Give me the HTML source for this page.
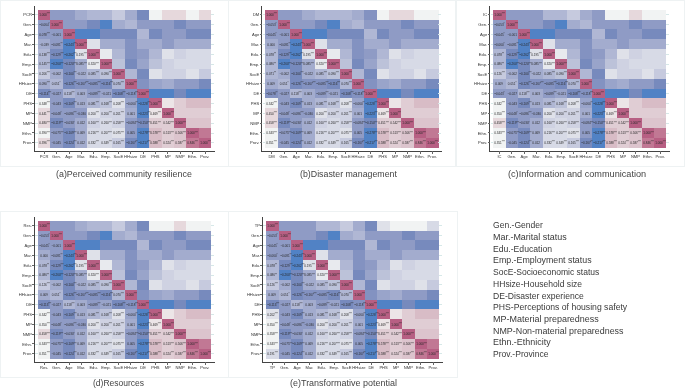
<!DOCTYPE html>
<html><head><meta charset="utf-8"><style>
*{margin:0;padding:0;box-sizing:border-box}
html,body{width:685px;height:389px;overflow:hidden;background:#fff}
body{position:relative;font-family:"Liberation Sans",sans-serif}
div{position:absolute}
.tl{left:0;top:0;width:685px;height:389px;will-change:transform}
.c{width:12.46px;height:9.94px}
.t{width:12.36px;height:9.85px;line-height:9.85px;font-size:3.77px;color:#2a2a2a;text-align:center;white-space:nowrap;transform:scaleX(0.81)}
.t i{font-style:normal;font-size:0.85em;position:relative;top:-0.25em}
.st{width:2.8px;height:0.6px;background:#d6e8e8}
.ax{background:#444}
.tk{background:#666}
.yl{width:30.9px;text-align:right;font-size:4.1px;line-height:6px;color:#333;white-space:nowrap}
.xl{width:20px;text-align:center;font-size:4.1px;line-height:6px;color:#333;white-space:nowrap}
.bx{border:1.4px solid #eef2f3}
.cap{color:#444;white-space:nowrap;transform-origin:0 0}
.lg{color:#3a3a3a;white-space:nowrap;transform-origin:0 0}
</style></head><body>
<div class="c" style="left:38.00px;top:9.70px;background:#b75f83"></div>
<div class="c" style="left:50.36px;top:9.70px;background:#8f9bc5"></div>
<div class="c" style="left:62.72px;top:9.70px;background:#8f9bc5"></div>
<div class="c" style="left:75.08px;top:9.70px;background:#a3acce"></div>
<div class="c" style="left:87.44px;top:9.70px;background:#b0b7d4"></div>
<div class="c" style="left:99.80px;top:9.70px;background:#b0b7d4"></div>
<div class="c" style="left:112.16px;top:9.70px;background:#c6cade"></div>
<div class="c" style="left:124.52px;top:9.70px;background:#a3acce"></div>
<div class="c" style="left:136.88px;top:9.70px;background:#778abd"></div>
<div class="c" style="left:149.24px;top:9.70px;background:#f1f3f3"></div>
<div class="c" style="left:161.60px;top:9.70px;background:#e6d8dc"></div>
<div class="c" style="left:173.96px;top:9.70px;background:#e6d8dc"></div>
<div class="c" style="left:186.32px;top:9.70px;background:#f1f3f3"></div>
<div class="c" style="left:198.68px;top:9.70px;background:#e6d8dc"></div>
<div class="c" style="left:38.00px;top:19.55px;background:#8f9bc5"></div>
<div class="c" style="left:50.36px;top:19.55px;background:#b75f83"></div>
<div class="c" style="left:62.72px;top:19.55px;background:#8f9bc5"></div>
<div class="c" style="left:75.08px;top:19.55px;background:#8f9bc5"></div>
<div class="c" style="left:87.44px;top:19.55px;background:#778abd"></div>
<div class="c" style="left:99.80px;top:19.55px;background:#5182c5"></div>
<div class="c" style="left:112.16px;top:19.55px;background:#a3acce"></div>
<div class="c" style="left:124.52px;top:19.55px;background:#b0b7d4"></div>
<div class="c" style="left:136.88px;top:19.55px;background:#8f9bc5"></div>
<div class="c" style="left:149.24px;top:19.55px;background:#8f9bc5"></div>
<div class="c" style="left:161.60px;top:19.55px;background:#8f9bc5"></div>
<div class="c" style="left:173.96px;top:19.55px;background:#778abd"></div>
<div class="c" style="left:186.32px;top:19.55px;background:#8f9bc5"></div>
<div class="c" style="left:198.68px;top:19.55px;background:#8f9bc5"></div>
<div class="c" style="left:38.00px;top:29.40px;background:#8f9bc5"></div>
<div class="c" style="left:50.36px;top:29.40px;background:#8f9bc5"></div>
<div class="c" style="left:62.72px;top:29.40px;background:#b75f83"></div>
<div class="c" style="left:75.08px;top:29.40px;background:#5182c5"></div>
<div class="c" style="left:87.44px;top:29.40px;background:#5182c5"></div>
<div class="c" style="left:99.80px;top:29.40px;background:#778abd"></div>
<div class="c" style="left:112.16px;top:29.40px;background:#778abd"></div>
<div class="c" style="left:124.52px;top:29.40px;background:#778abd"></div>
<div class="c" style="left:136.88px;top:29.40px;background:#b0b7d4"></div>
<div class="c" style="left:149.24px;top:29.40px;background:#778abd"></div>
<div class="c" style="left:161.60px;top:29.40px;background:#8f9bc5"></div>
<div class="c" style="left:173.96px;top:29.40px;background:#8f9bc5"></div>
<div class="c" style="left:186.32px;top:29.40px;background:#778abd"></div>
<div class="c" style="left:198.68px;top:29.40px;background:#778abd"></div>
<div class="c" style="left:38.00px;top:39.25px;background:#a3acce"></div>
<div class="c" style="left:50.36px;top:39.25px;background:#8f9bc5"></div>
<div class="c" style="left:62.72px;top:39.25px;background:#5182c5"></div>
<div class="c" style="left:75.08px;top:39.25px;background:#b75f83"></div>
<div class="c" style="left:87.44px;top:39.25px;background:#dfe1e9"></div>
<div class="c" style="left:99.80px;top:39.25px;background:#a3acce"></div>
<div class="c" style="left:112.16px;top:39.25px;background:#a3acce"></div>
<div class="c" style="left:124.52px;top:39.25px;background:#8392c1"></div>
<div class="c" style="left:136.88px;top:39.25px;background:#a3acce"></div>
<div class="c" style="left:149.24px;top:39.25px;background:#a3acce"></div>
<div class="c" style="left:161.60px;top:39.25px;background:#8f9bc5"></div>
<div class="c" style="left:173.96px;top:39.25px;background:#a3acce"></div>
<div class="c" style="left:186.32px;top:39.25px;background:#a3acce"></div>
<div class="c" style="left:198.68px;top:39.25px;background:#a3acce"></div>
<div class="c" style="left:38.00px;top:49.10px;background:#b0b7d4"></div>
<div class="c" style="left:50.36px;top:49.10px;background:#778abd"></div>
<div class="c" style="left:62.72px;top:49.10px;background:#5182c5"></div>
<div class="c" style="left:75.08px;top:49.10px;background:#dfe1e9"></div>
<div class="c" style="left:87.44px;top:49.10px;background:#b75f83"></div>
<div class="c" style="left:99.80px;top:49.10px;background:#e8eaee"></div>
<div class="c" style="left:112.16px;top:49.10px;background:#b0b7d4"></div>
<div class="c" style="left:124.52px;top:49.10px;background:#8392c1"></div>
<div class="c" style="left:136.88px;top:49.10px;background:#8f9bc5"></div>
<div class="c" style="left:149.24px;top:49.10px;background:#b0b7d4"></div>
<div class="c" style="left:161.60px;top:49.10px;background:#dfe1e9"></div>
<div class="c" style="left:173.96px;top:49.10px;background:#cfd2e2"></div>
<div class="c" style="left:186.32px;top:49.10px;background:#d7dae6"></div>
<div class="c" style="left:198.68px;top:49.10px;background:#d7dae6"></div>
<div class="c" style="left:38.00px;top:58.95px;background:#b0b7d4"></div>
<div class="c" style="left:50.36px;top:58.95px;background:#5182c5"></div>
<div class="c" style="left:62.72px;top:58.95px;background:#778abd"></div>
<div class="c" style="left:75.08px;top:58.95px;background:#a3acce"></div>
<div class="c" style="left:87.44px;top:58.95px;background:#e8eaee"></div>
<div class="c" style="left:99.80px;top:58.95px;background:#b75f83"></div>
<div class="c" style="left:112.16px;top:58.95px;background:#bcc2d9"></div>
<div class="c" style="left:124.52px;top:58.95px;background:#778abd"></div>
<div class="c" style="left:136.88px;top:58.95px;background:#99a4ca"></div>
<div class="c" style="left:149.24px;top:58.95px;background:#bcc2d9"></div>
<div class="c" style="left:161.60px;top:58.95px;background:#cfd2e2"></div>
<div class="c" style="left:173.96px;top:58.95px;background:#d7dae6"></div>
<div class="c" style="left:186.32px;top:58.95px;background:#d7dae6"></div>
<div class="c" style="left:198.68px;top:58.95px;background:#d7dae6"></div>
<div class="c" style="left:38.00px;top:68.80px;background:#c6cade"></div>
<div class="c" style="left:50.36px;top:68.80px;background:#a3acce"></div>
<div class="c" style="left:62.72px;top:68.80px;background:#778abd"></div>
<div class="c" style="left:75.08px;top:68.80px;background:#a3acce"></div>
<div class="c" style="left:87.44px;top:68.80px;background:#b0b7d4"></div>
<div class="c" style="left:99.80px;top:68.80px;background:#bcc2d9"></div>
<div class="c" style="left:112.16px;top:68.80px;background:#b75f83"></div>
<div class="c" style="left:124.52px;top:68.80px;background:#b0b7d4"></div>
<div class="c" style="left:136.88px;top:68.80px;background:#778abd"></div>
<div class="c" style="left:149.24px;top:68.80px;background:#dfe1e9"></div>
<div class="c" style="left:161.60px;top:68.80px;background:#cfd2e2"></div>
<div class="c" style="left:173.96px;top:68.80px;background:#cfd2e2"></div>
<div class="c" style="left:186.32px;top:68.80px;background:#dfe1e9"></div>
<div class="c" style="left:198.68px;top:68.80px;background:#c6cade"></div>
<div class="c" style="left:38.00px;top:78.65px;background:#a3acce"></div>
<div class="c" style="left:50.36px;top:78.65px;background:#b0b7d4"></div>
<div class="c" style="left:62.72px;top:78.65px;background:#778abd"></div>
<div class="c" style="left:75.08px;top:78.65px;background:#8392c1"></div>
<div class="c" style="left:87.44px;top:78.65px;background:#8392c1"></div>
<div class="c" style="left:99.80px;top:78.65px;background:#778abd"></div>
<div class="c" style="left:112.16px;top:78.65px;background:#b0b7d4"></div>
<div class="c" style="left:124.52px;top:78.65px;background:#b75f83"></div>
<div class="c" style="left:136.88px;top:78.65px;background:#8392c1"></div>
<div class="c" style="left:149.24px;top:78.65px;background:#99a4ca"></div>
<div class="c" style="left:161.60px;top:78.65px;background:#a3acce"></div>
<div class="c" style="left:173.96px;top:78.65px;background:#8f9bc5"></div>
<div class="c" style="left:186.32px;top:78.65px;background:#8f9bc5"></div>
<div class="c" style="left:198.68px;top:78.65px;background:#778abd"></div>
<div class="c" style="left:38.00px;top:88.50px;background:#778abd"></div>
<div class="c" style="left:50.36px;top:88.50px;background:#8f9bc5"></div>
<div class="c" style="left:62.72px;top:88.50px;background:#b0b7d4"></div>
<div class="c" style="left:75.08px;top:88.50px;background:#a3acce"></div>
<div class="c" style="left:87.44px;top:88.50px;background:#8f9bc5"></div>
<div class="c" style="left:99.80px;top:88.50px;background:#99a4ca"></div>
<div class="c" style="left:112.16px;top:88.50px;background:#778abd"></div>
<div class="c" style="left:124.52px;top:88.50px;background:#8392c1"></div>
<div class="c" style="left:136.88px;top:88.50px;background:#b75f83"></div>
<div class="c" style="left:149.24px;top:88.50px;background:#5182c5"></div>
<div class="c" style="left:161.60px;top:88.50px;background:#5182c5"></div>
<div class="c" style="left:173.96px;top:88.50px;background:#778abd"></div>
<div class="c" style="left:186.32px;top:88.50px;background:#5182c5"></div>
<div class="c" style="left:198.68px;top:88.50px;background:#5182c5"></div>
<div class="c" style="left:38.00px;top:98.35px;background:#f1f3f3"></div>
<div class="c" style="left:50.36px;top:98.35px;background:#8f9bc5"></div>
<div class="c" style="left:62.72px;top:98.35px;background:#778abd"></div>
<div class="c" style="left:75.08px;top:98.35px;background:#a3acce"></div>
<div class="c" style="left:87.44px;top:98.35px;background:#b0b7d4"></div>
<div class="c" style="left:99.80px;top:98.35px;background:#bcc2d9"></div>
<div class="c" style="left:112.16px;top:98.35px;background:#dfe1e9"></div>
<div class="c" style="left:124.52px;top:98.35px;background:#99a4ca"></div>
<div class="c" style="left:136.88px;top:98.35px;background:#5182c5"></div>
<div class="c" style="left:149.24px;top:98.35px;background:#b75f83"></div>
<div class="c" style="left:161.60px;top:98.35px;background:#ece5e7"></div>
<div class="c" style="left:173.96px;top:98.35px;background:#e0cdd4"></div>
<div class="c" style="left:186.32px;top:98.35px;background:#d8bcc6"></div>
<div class="c" style="left:198.68px;top:98.35px;background:#d8bcc6"></div>
<div class="c" style="left:38.00px;top:108.20px;background:#e6d8dc"></div>
<div class="c" style="left:50.36px;top:108.20px;background:#8f9bc5"></div>
<div class="c" style="left:62.72px;top:108.20px;background:#8f9bc5"></div>
<div class="c" style="left:75.08px;top:108.20px;background:#8f9bc5"></div>
<div class="c" style="left:87.44px;top:108.20px;background:#dfe1e9"></div>
<div class="c" style="left:99.80px;top:108.20px;background:#cfd2e2"></div>
<div class="c" style="left:112.16px;top:108.20px;background:#cfd2e2"></div>
<div class="c" style="left:124.52px;top:108.20px;background:#a3acce"></div>
<div class="c" style="left:136.88px;top:108.20px;background:#5182c5"></div>
<div class="c" style="left:149.24px;top:108.20px;background:#ece5e7"></div>
<div class="c" style="left:161.60px;top:108.20px;background:#b75f83"></div>
<div class="c" style="left:173.96px;top:108.20px;background:#e0cdd4"></div>
<div class="c" style="left:186.32px;top:108.20px;background:#e0cdd4"></div>
<div class="c" style="left:198.68px;top:108.20px;background:#e0cdd4"></div>
<div class="c" style="left:38.00px;top:118.05px;background:#e6d8dc"></div>
<div class="c" style="left:50.36px;top:118.05px;background:#778abd"></div>
<div class="c" style="left:62.72px;top:118.05px;background:#8f9bc5"></div>
<div class="c" style="left:75.08px;top:118.05px;background:#a3acce"></div>
<div class="c" style="left:87.44px;top:118.05px;background:#cfd2e2"></div>
<div class="c" style="left:99.80px;top:118.05px;background:#d7dae6"></div>
<div class="c" style="left:112.16px;top:118.05px;background:#cfd2e2"></div>
<div class="c" style="left:124.52px;top:118.05px;background:#8f9bc5"></div>
<div class="c" style="left:136.88px;top:118.05px;background:#778abd"></div>
<div class="c" style="left:149.24px;top:118.05px;background:#e0cdd4"></div>
<div class="c" style="left:161.60px;top:118.05px;background:#e0cdd4"></div>
<div class="c" style="left:173.96px;top:118.05px;background:#b75f83"></div>
<div class="c" style="left:186.32px;top:118.05px;background:#dcc4cd"></div>
<div class="c" style="left:198.68px;top:118.05px;background:#dcc4cd"></div>
<div class="c" style="left:38.00px;top:127.90px;background:#f1f3f3"></div>
<div class="c" style="left:50.36px;top:127.90px;background:#8f9bc5"></div>
<div class="c" style="left:62.72px;top:127.90px;background:#778abd"></div>
<div class="c" style="left:75.08px;top:127.90px;background:#a3acce"></div>
<div class="c" style="left:87.44px;top:127.90px;background:#d7dae6"></div>
<div class="c" style="left:99.80px;top:127.90px;background:#d7dae6"></div>
<div class="c" style="left:112.16px;top:127.90px;background:#dfe1e9"></div>
<div class="c" style="left:124.52px;top:127.90px;background:#8f9bc5"></div>
<div class="c" style="left:136.88px;top:127.90px;background:#5182c5"></div>
<div class="c" style="left:149.24px;top:127.90px;background:#d8bcc6"></div>
<div class="c" style="left:161.60px;top:127.90px;background:#e0cdd4"></div>
<div class="c" style="left:173.96px;top:127.90px;background:#dcc4cd"></div>
<div class="c" style="left:186.32px;top:127.90px;background:#b75f83"></div>
<div class="c" style="left:198.68px;top:127.90px;background:#c17894"></div>
<div class="c" style="left:38.00px;top:137.75px;background:#e6d8dc"></div>
<div class="c" style="left:50.36px;top:137.75px;background:#8f9bc5"></div>
<div class="c" style="left:62.72px;top:137.75px;background:#778abd"></div>
<div class="c" style="left:75.08px;top:137.75px;background:#a3acce"></div>
<div class="c" style="left:87.44px;top:137.75px;background:#d7dae6"></div>
<div class="c" style="left:99.80px;top:137.75px;background:#d7dae6"></div>
<div class="c" style="left:112.16px;top:137.75px;background:#c6cade"></div>
<div class="c" style="left:124.52px;top:137.75px;background:#778abd"></div>
<div class="c" style="left:136.88px;top:137.75px;background:#5182c5"></div>
<div class="c" style="left:149.24px;top:137.75px;background:#d8bcc6"></div>
<div class="c" style="left:161.60px;top:137.75px;background:#e0cdd4"></div>
<div class="c" style="left:173.96px;top:137.75px;background:#dcc4cd"></div>
<div class="c" style="left:186.32px;top:137.75px;background:#c17894"></div>
<div class="c" style="left:198.68px;top:137.75px;background:#b75f83"></div>
<div class="tl">
<div class="t" style="left:38.00px;top:11.10px">1.000<i>***</i></div>
<div class="t" style="left:38.00px;top:20.95px">−0.064<i>*</i></div>
<div class="t" style="left:50.36px;top:20.95px">1.000<i>***</i></div>
<div class="t" style="left:38.00px;top:30.80px">0.078<i>***</i></div>
<div class="t" style="left:50.36px;top:30.80px">−0.001</div>
<div class="t" style="left:62.72px;top:30.80px">1.000<i>***</i></div>
<div class="t" style="left:38.00px;top:40.65px">−0.039</div>
<div class="t" style="left:50.36px;top:40.65px">−0.081<i>**</i></div>
<div class="t" style="left:62.72px;top:40.65px">−0.243<i>***</i></div>
<div class="t" style="left:75.08px;top:40.65px">1.000<i>***</i></div>
<div class="t" style="left:38.00px;top:50.50px">0.138<i>***</i></div>
<div class="t" style="left:50.36px;top:50.50px">−0.129<i>***</i></div>
<div class="t" style="left:62.72px;top:50.50px">−0.262<i>***</i></div>
<div class="t" style="left:75.08px;top:50.50px">0.195<i>***</i></div>
<div class="t" style="left:87.44px;top:50.50px">1.000<i>***</i></div>
<div class="t" style="left:38.00px;top:60.35px">0.145<i>***</i></div>
<div class="t" style="left:50.36px;top:60.35px">−0.260<i>***</i></div>
<div class="t" style="left:62.72px;top:60.35px">−0.120<i>***</i></div>
<div class="t" style="left:75.08px;top:60.35px">0.085<i>***</i></div>
<div class="t" style="left:87.44px;top:60.35px">0.320<i>***</i></div>
<div class="t" style="left:99.80px;top:60.35px">1.000<i>***</i></div>
<div class="t" style="left:38.00px;top:70.20px">0.206<i>***</i></div>
<div class="t" style="left:50.36px;top:70.20px">−0.002</div>
<div class="t" style="left:62.72px;top:70.20px">−0.100<i>***</i></div>
<div class="t" style="left:75.08px;top:70.20px">−0.022</div>
<div class="t" style="left:87.44px;top:70.20px">0.085<i>***</i></div>
<div class="t" style="left:99.80px;top:70.20px">0.090<i>***</i></div>
<div class="t" style="left:112.16px;top:70.20px">1.000<i>***</i></div>
<div class="t" style="left:38.00px;top:80.05px">0.090<i>***</i></div>
<div class="t" style="left:50.36px;top:80.05px">0.051<i>*</i></div>
<div class="t" style="left:62.72px;top:80.05px">−0.126<i>***</i></div>
<div class="t" style="left:75.08px;top:80.05px">−0.167<i>***</i></div>
<div class="t" style="left:87.44px;top:80.05px">−0.085<i>***</i></div>
<div class="t" style="left:99.80px;top:80.05px">−0.116<i>***</i></div>
<div class="t" style="left:112.16px;top:80.05px">0.070<i>***</i></div>
<div class="t" style="left:124.52px;top:80.05px">1.000<i>***</i></div>
<div class="t" style="left:38.00px;top:89.90px">−0.114<i>***</i></div>
<div class="t" style="left:50.36px;top:89.90px">−0.027</div>
<div class="t" style="left:62.72px;top:89.90px">0.118<i>***</i></div>
<div class="t" style="left:75.08px;top:89.90px">0.003</div>
<div class="t" style="left:87.44px;top:89.90px">−0.089<i>***</i></div>
<div class="t" style="left:99.80px;top:89.90px">−0.021</div>
<div class="t" style="left:112.16px;top:89.90px">−0.108<i>***</i></div>
<div class="t" style="left:124.52px;top:89.90px">−0.118<i>***</i></div>
<div class="t" style="left:136.88px;top:89.90px">1.000<i>***</i></div>
<div class="t" style="left:38.00px;top:99.75px">0.348<i>***</i></div>
<div class="t" style="left:50.36px;top:99.75px">−0.043</div>
<div class="t" style="left:62.72px;top:99.75px">−0.109<i>***</i></div>
<div class="t" style="left:75.08px;top:99.75px">0.013</div>
<div class="t" style="left:87.44px;top:99.75px">0.081<i>***</i></div>
<div class="t" style="left:99.80px;top:99.75px">0.168<i>***</i></div>
<div class="t" style="left:112.16px;top:99.75px">0.208<i>***</i></div>
<div class="t" style="left:124.52px;top:99.75px">−0.060<i>**</i></div>
<div class="t" style="left:136.88px;top:99.75px">−0.228<i>***</i></div>
<div class="t" style="left:149.24px;top:99.75px">1.000<i>***</i></div>
<div class="t" style="left:38.00px;top:109.60px">0.441<i>***</i></div>
<div class="t" style="left:50.36px;top:109.60px">−0.048<i>*</i></div>
<div class="t" style="left:62.72px;top:109.60px">−0.086<i>***</i></div>
<div class="t" style="left:75.08px;top:109.60px">−0.030</div>
<div class="t" style="left:87.44px;top:109.60px">0.200<i>***</i></div>
<div class="t" style="left:99.80px;top:109.60px">0.200<i>***</i></div>
<div class="t" style="left:112.16px;top:109.60px">0.201<i>***</i></div>
<div class="t" style="left:124.52px;top:109.60px">0.001</div>
<div class="t" style="left:136.88px;top:109.60px">−0.223<i>***</i></div>
<div class="t" style="left:149.24px;top:109.60px">0.469<i>***</i></div>
<div class="t" style="left:161.60px;top:109.60px">1.000<i>***</i></div>
<div class="t" style="left:38.00px;top:119.45px">0.480<i>***</i></div>
<div class="t" style="left:50.36px;top:119.45px">−0.119<i>***</i></div>
<div class="t" style="left:62.72px;top:119.45px">−0.030<i>*</i></div>
<div class="t" style="left:75.08px;top:119.45px">0.012</div>
<div class="t" style="left:87.44px;top:119.45px">0.160<i>***</i></div>
<div class="t" style="left:99.80px;top:119.45px">0.260<i>***</i></div>
<div class="t" style="left:112.16px;top:119.45px">0.258<i>***</i></div>
<div class="t" style="left:124.52px;top:119.45px">−0.084<i>***</i></div>
<div class="t" style="left:136.88px;top:119.45px">−0.150<i>***</i></div>
<div class="t" style="left:149.24px;top:119.45px">0.451<i>***</i></div>
<div class="t" style="left:161.60px;top:119.45px">0.542<i>***</i></div>
<div class="t" style="left:173.96px;top:119.45px">1.000<i>***</i></div>
<div class="t" style="left:38.00px;top:129.30px">0.390<i>***</i></div>
<div class="t" style="left:50.36px;top:129.30px">−0.075<i>***</i></div>
<div class="t" style="left:62.72px;top:129.30px">−0.109<i>***</i></div>
<div class="t" style="left:75.08px;top:129.30px">0.069</div>
<div class="t" style="left:87.44px;top:129.30px">0.216<i>***</i></div>
<div class="t" style="left:99.80px;top:129.30px">0.207<i>***</i></div>
<div class="t" style="left:112.16px;top:129.30px">0.075<i>***</i></div>
<div class="t" style="left:124.52px;top:129.30px">0.005</div>
<div class="t" style="left:136.88px;top:129.30px">−0.278<i>***</i></div>
<div class="t" style="left:149.24px;top:129.30px">0.578<i>***</i></div>
<div class="t" style="left:161.60px;top:129.30px">0.513<i>***</i></div>
<div class="t" style="left:173.96px;top:129.30px">0.506<i>***</i></div>
<div class="t" style="left:186.32px;top:129.30px">1.000<i>***</i></div>
<div class="t" style="left:38.00px;top:139.15px">0.396<i>***</i></div>
<div class="t" style="left:50.36px;top:139.15px">−0.045</div>
<div class="t" style="left:62.72px;top:139.15px">−0.124<i>***</i></div>
<div class="t" style="left:75.08px;top:139.15px">0.012</div>
<div class="t" style="left:87.44px;top:139.15px">0.332<i>***</i></div>
<div class="t" style="left:99.80px;top:139.15px">0.349<i>***</i></div>
<div class="t" style="left:112.16px;top:139.15px">0.165<i>***</i></div>
<div class="t" style="left:124.52px;top:139.15px">−0.167<i>**</i></div>
<div class="t" style="left:136.88px;top:139.15px">−0.217<i>***</i></div>
<div class="t" style="left:149.24px;top:139.15px">0.588<i>***</i></div>
<div class="t" style="left:161.60px;top:139.15px">0.524<i>***</i></div>
<div class="t" style="left:173.96px;top:139.15px">0.587<i>***</i></div>
<div class="t" style="left:186.32px;top:139.15px">0.846<i>***</i></div>
<div class="t" style="left:198.68px;top:139.15px">1.000<i>***</i></div>
</div>
<div class="st" style="left:35.20px;top:14.32px"></div>
<div class="st" style="left:211.04px;top:14.32px"></div>
<div class="st" style="left:35.20px;top:24.17px"></div>
<div class="st" style="left:211.04px;top:24.17px"></div>
<div class="st" style="left:35.20px;top:34.02px"></div>
<div class="st" style="left:211.04px;top:34.02px"></div>
<div class="st" style="left:35.20px;top:43.88px"></div>
<div class="st" style="left:211.04px;top:43.88px"></div>
<div class="st" style="left:35.20px;top:53.72px"></div>
<div class="st" style="left:211.04px;top:53.72px"></div>
<div class="st" style="left:35.20px;top:63.58px"></div>
<div class="st" style="left:211.04px;top:63.58px"></div>
<div class="st" style="left:35.20px;top:73.42px"></div>
<div class="st" style="left:211.04px;top:73.42px"></div>
<div class="st" style="left:35.20px;top:83.28px"></div>
<div class="st" style="left:211.04px;top:83.28px"></div>
<div class="st" style="left:35.20px;top:93.12px"></div>
<div class="st" style="left:211.04px;top:93.12px"></div>
<div class="st" style="left:35.20px;top:102.97px"></div>
<div class="st" style="left:211.04px;top:102.97px"></div>
<div class="st" style="left:35.20px;top:112.83px"></div>
<div class="st" style="left:211.04px;top:112.83px"></div>
<div class="st" style="left:35.20px;top:122.67px"></div>
<div class="st" style="left:211.04px;top:122.67px"></div>
<div class="st" style="left:35.20px;top:132.52px"></div>
<div class="st" style="left:211.04px;top:132.52px"></div>
<div class="st" style="left:35.20px;top:142.37px"></div>
<div class="st" style="left:211.04px;top:142.37px"></div>
<div class="ax" style="left:33.85px;top:5.80px;width:0.9px;height:145.80px"></div>
<div class="ax" style="left:33.85px;top:150.75px;width:181.00px;height:0.9px"></div>
<div class="tk" style="left:32.20px;top:14.28px;width:2.1px;height:0.7px"></div>
<div class="yl" style="left:1.00px;top:12.43px">PCR</div>
<div class="tk" style="left:32.20px;top:24.12px;width:2.1px;height:0.7px"></div>
<div class="yl" style="left:1.00px;top:22.27px">Gen.</div>
<div class="tk" style="left:32.20px;top:33.97px;width:2.1px;height:0.7px"></div>
<div class="yl" style="left:1.00px;top:32.12px">Age</div>
<div class="tk" style="left:32.20px;top:43.82px;width:2.1px;height:0.7px"></div>
<div class="yl" style="left:1.00px;top:41.97px">Mar.</div>
<div class="tk" style="left:32.20px;top:53.67px;width:2.1px;height:0.7px"></div>
<div class="yl" style="left:1.00px;top:51.82px">Edu.</div>
<div class="tk" style="left:32.20px;top:63.52px;width:2.1px;height:0.7px"></div>
<div class="yl" style="left:1.00px;top:61.67px">Emp.</div>
<div class="tk" style="left:32.20px;top:73.38px;width:2.1px;height:0.7px"></div>
<div class="yl" style="left:1.00px;top:71.52px">SocE</div>
<div class="tk" style="left:32.20px;top:83.23px;width:2.1px;height:0.7px"></div>
<div class="yl" style="left:1.00px;top:81.38px">HHsize</div>
<div class="tk" style="left:32.20px;top:93.08px;width:2.1px;height:0.7px"></div>
<div class="yl" style="left:1.00px;top:91.22px">DE</div>
<div class="tk" style="left:32.20px;top:102.92px;width:2.1px;height:0.7px"></div>
<div class="yl" style="left:1.00px;top:101.07px">PHS</div>
<div class="tk" style="left:32.20px;top:112.78px;width:2.1px;height:0.7px"></div>
<div class="yl" style="left:1.00px;top:110.92px">MP</div>
<div class="tk" style="left:32.20px;top:122.62px;width:2.1px;height:0.7px"></div>
<div class="yl" style="left:1.00px;top:120.77px">NMP</div>
<div class="tk" style="left:32.20px;top:132.47px;width:2.1px;height:0.7px"></div>
<div class="yl" style="left:1.00px;top:130.62px">Ethn.</div>
<div class="tk" style="left:32.20px;top:142.32px;width:2.1px;height:0.7px"></div>
<div class="yl" style="left:1.00px;top:140.47px">Prov.</div>
<div class="tk" style="left:43.83px;top:151.40px;width:0.7px;height:2.3px"></div>
<div class="xl" style="left:34.18px;top:153.60px">PCR</div>
<div class="tk" style="left:56.19px;top:151.40px;width:0.7px;height:2.3px"></div>
<div class="xl" style="left:46.54px;top:153.60px">Gen.</div>
<div class="tk" style="left:68.55px;top:151.40px;width:0.7px;height:2.3px"></div>
<div class="xl" style="left:58.90px;top:153.60px">Age</div>
<div class="tk" style="left:80.91px;top:151.40px;width:0.7px;height:2.3px"></div>
<div class="xl" style="left:71.26px;top:153.60px">Mar.</div>
<div class="tk" style="left:93.27px;top:151.40px;width:0.7px;height:2.3px"></div>
<div class="xl" style="left:83.62px;top:153.60px">Edu.</div>
<div class="tk" style="left:105.63px;top:151.40px;width:0.7px;height:2.3px"></div>
<div class="xl" style="left:95.98px;top:153.60px">Emp.</div>
<div class="tk" style="left:117.99px;top:151.40px;width:0.7px;height:2.3px"></div>
<div class="xl" style="left:108.34px;top:153.60px">SocE</div>
<div class="tk" style="left:130.35px;top:151.40px;width:0.7px;height:2.3px"></div>
<div class="xl" style="left:120.70px;top:153.60px">HHsize</div>
<div class="tk" style="left:142.71px;top:151.40px;width:0.7px;height:2.3px"></div>
<div class="xl" style="left:133.06px;top:153.60px">DE</div>
<div class="tk" style="left:155.07px;top:151.40px;width:0.7px;height:2.3px"></div>
<div class="xl" style="left:145.42px;top:153.60px">PHS</div>
<div class="tk" style="left:167.43px;top:151.40px;width:0.7px;height:2.3px"></div>
<div class="xl" style="left:157.78px;top:153.60px">MP</div>
<div class="tk" style="left:179.79px;top:151.40px;width:0.7px;height:2.3px"></div>
<div class="xl" style="left:170.14px;top:153.60px">NMP</div>
<div class="tk" style="left:192.15px;top:151.40px;width:0.7px;height:2.3px"></div>
<div class="xl" style="left:182.50px;top:153.60px">Ethn.</div>
<div class="tk" style="left:204.51px;top:151.40px;width:0.7px;height:2.3px"></div>
<div class="xl" style="left:194.86px;top:153.60px">Prov.</div>
<div class="bx" style="left:0.00px;top:0.00px;width:228.50px;height:167.00px"></div>
<div class="cap" style="left:56.37px;top:168.79px;font-size:8.80px;line-height:10.12px;transform:scaleX(1.0103)">(a)Perceived community resilience</div>
<div class="c" style="left:265.40px;top:9.70px;background:#b75f83"></div>
<div class="c" style="left:277.76px;top:9.70px;background:#8f9bc5"></div>
<div class="c" style="left:290.12px;top:9.70px;background:#8f9bc5"></div>
<div class="c" style="left:302.48px;top:9.70px;background:#a3acce"></div>
<div class="c" style="left:314.84px;top:9.70px;background:#b0b7d4"></div>
<div class="c" style="left:327.20px;top:9.70px;background:#b0b7d4"></div>
<div class="c" style="left:339.56px;top:9.70px;background:#b0b7d4"></div>
<div class="c" style="left:351.92px;top:9.70px;background:#a3acce"></div>
<div class="c" style="left:364.28px;top:9.70px;background:#8392c1"></div>
<div class="c" style="left:376.64px;top:9.70px;background:#f1f3f3"></div>
<div class="c" style="left:389.00px;top:9.70px;background:#e6d8dc"></div>
<div class="c" style="left:401.36px;top:9.70px;background:#e6d8dc"></div>
<div class="c" style="left:413.72px;top:9.70px;background:#f1f3f3"></div>
<div class="c" style="left:426.08px;top:9.70px;background:#f1f3f3"></div>
<div class="c" style="left:265.40px;top:19.55px;background:#8f9bc5"></div>
<div class="c" style="left:277.76px;top:19.55px;background:#b75f83"></div>
<div class="c" style="left:290.12px;top:19.55px;background:#8f9bc5"></div>
<div class="c" style="left:302.48px;top:19.55px;background:#8f9bc5"></div>
<div class="c" style="left:314.84px;top:19.55px;background:#778abd"></div>
<div class="c" style="left:327.20px;top:19.55px;background:#5182c5"></div>
<div class="c" style="left:339.56px;top:19.55px;background:#a3acce"></div>
<div class="c" style="left:351.92px;top:19.55px;background:#b0b7d4"></div>
<div class="c" style="left:364.28px;top:19.55px;background:#8f9bc5"></div>
<div class="c" style="left:376.64px;top:19.55px;background:#8f9bc5"></div>
<div class="c" style="left:389.00px;top:19.55px;background:#8f9bc5"></div>
<div class="c" style="left:401.36px;top:19.55px;background:#778abd"></div>
<div class="c" style="left:413.72px;top:19.55px;background:#8f9bc5"></div>
<div class="c" style="left:426.08px;top:19.55px;background:#8f9bc5"></div>
<div class="c" style="left:265.40px;top:29.40px;background:#8f9bc5"></div>
<div class="c" style="left:277.76px;top:29.40px;background:#8f9bc5"></div>
<div class="c" style="left:290.12px;top:29.40px;background:#b75f83"></div>
<div class="c" style="left:302.48px;top:29.40px;background:#5182c5"></div>
<div class="c" style="left:314.84px;top:29.40px;background:#5182c5"></div>
<div class="c" style="left:327.20px;top:29.40px;background:#778abd"></div>
<div class="c" style="left:339.56px;top:29.40px;background:#778abd"></div>
<div class="c" style="left:351.92px;top:29.40px;background:#778abd"></div>
<div class="c" style="left:364.28px;top:29.40px;background:#b0b7d4"></div>
<div class="c" style="left:376.64px;top:29.40px;background:#778abd"></div>
<div class="c" style="left:389.00px;top:29.40px;background:#8f9bc5"></div>
<div class="c" style="left:401.36px;top:29.40px;background:#8f9bc5"></div>
<div class="c" style="left:413.72px;top:29.40px;background:#778abd"></div>
<div class="c" style="left:426.08px;top:29.40px;background:#778abd"></div>
<div class="c" style="left:265.40px;top:39.25px;background:#a3acce"></div>
<div class="c" style="left:277.76px;top:39.25px;background:#8f9bc5"></div>
<div class="c" style="left:290.12px;top:39.25px;background:#5182c5"></div>
<div class="c" style="left:302.48px;top:39.25px;background:#b75f83"></div>
<div class="c" style="left:314.84px;top:39.25px;background:#dfe1e9"></div>
<div class="c" style="left:327.20px;top:39.25px;background:#a3acce"></div>
<div class="c" style="left:339.56px;top:39.25px;background:#a3acce"></div>
<div class="c" style="left:351.92px;top:39.25px;background:#8392c1"></div>
<div class="c" style="left:364.28px;top:39.25px;background:#a3acce"></div>
<div class="c" style="left:376.64px;top:39.25px;background:#a3acce"></div>
<div class="c" style="left:389.00px;top:39.25px;background:#8f9bc5"></div>
<div class="c" style="left:401.36px;top:39.25px;background:#a3acce"></div>
<div class="c" style="left:413.72px;top:39.25px;background:#a3acce"></div>
<div class="c" style="left:426.08px;top:39.25px;background:#a3acce"></div>
<div class="c" style="left:265.40px;top:49.10px;background:#b0b7d4"></div>
<div class="c" style="left:277.76px;top:49.10px;background:#778abd"></div>
<div class="c" style="left:290.12px;top:49.10px;background:#5182c5"></div>
<div class="c" style="left:302.48px;top:49.10px;background:#dfe1e9"></div>
<div class="c" style="left:314.84px;top:49.10px;background:#b75f83"></div>
<div class="c" style="left:327.20px;top:49.10px;background:#e8eaee"></div>
<div class="c" style="left:339.56px;top:49.10px;background:#b0b7d4"></div>
<div class="c" style="left:351.92px;top:49.10px;background:#8392c1"></div>
<div class="c" style="left:364.28px;top:49.10px;background:#8f9bc5"></div>
<div class="c" style="left:376.64px;top:49.10px;background:#b0b7d4"></div>
<div class="c" style="left:389.00px;top:49.10px;background:#dfe1e9"></div>
<div class="c" style="left:401.36px;top:49.10px;background:#cfd2e2"></div>
<div class="c" style="left:413.72px;top:49.10px;background:#d7dae6"></div>
<div class="c" style="left:426.08px;top:49.10px;background:#d7dae6"></div>
<div class="c" style="left:265.40px;top:58.95px;background:#b0b7d4"></div>
<div class="c" style="left:277.76px;top:58.95px;background:#5182c5"></div>
<div class="c" style="left:290.12px;top:58.95px;background:#778abd"></div>
<div class="c" style="left:302.48px;top:58.95px;background:#a3acce"></div>
<div class="c" style="left:314.84px;top:58.95px;background:#e8eaee"></div>
<div class="c" style="left:327.20px;top:58.95px;background:#b75f83"></div>
<div class="c" style="left:339.56px;top:58.95px;background:#bcc2d9"></div>
<div class="c" style="left:351.92px;top:58.95px;background:#778abd"></div>
<div class="c" style="left:364.28px;top:58.95px;background:#99a4ca"></div>
<div class="c" style="left:376.64px;top:58.95px;background:#bcc2d9"></div>
<div class="c" style="left:389.00px;top:58.95px;background:#cfd2e2"></div>
<div class="c" style="left:401.36px;top:58.95px;background:#d7dae6"></div>
<div class="c" style="left:413.72px;top:58.95px;background:#d7dae6"></div>
<div class="c" style="left:426.08px;top:58.95px;background:#d7dae6"></div>
<div class="c" style="left:265.40px;top:68.80px;background:#b0b7d4"></div>
<div class="c" style="left:277.76px;top:68.80px;background:#a3acce"></div>
<div class="c" style="left:290.12px;top:68.80px;background:#778abd"></div>
<div class="c" style="left:302.48px;top:68.80px;background:#a3acce"></div>
<div class="c" style="left:314.84px;top:68.80px;background:#b0b7d4"></div>
<div class="c" style="left:327.20px;top:68.80px;background:#bcc2d9"></div>
<div class="c" style="left:339.56px;top:68.80px;background:#b75f83"></div>
<div class="c" style="left:351.92px;top:68.80px;background:#b0b7d4"></div>
<div class="c" style="left:364.28px;top:68.80px;background:#778abd"></div>
<div class="c" style="left:376.64px;top:68.80px;background:#dfe1e9"></div>
<div class="c" style="left:389.00px;top:68.80px;background:#cfd2e2"></div>
<div class="c" style="left:401.36px;top:68.80px;background:#cfd2e2"></div>
<div class="c" style="left:413.72px;top:68.80px;background:#dfe1e9"></div>
<div class="c" style="left:426.08px;top:68.80px;background:#c6cade"></div>
<div class="c" style="left:265.40px;top:78.65px;background:#a3acce"></div>
<div class="c" style="left:277.76px;top:78.65px;background:#b0b7d4"></div>
<div class="c" style="left:290.12px;top:78.65px;background:#778abd"></div>
<div class="c" style="left:302.48px;top:78.65px;background:#8392c1"></div>
<div class="c" style="left:314.84px;top:78.65px;background:#8392c1"></div>
<div class="c" style="left:327.20px;top:78.65px;background:#778abd"></div>
<div class="c" style="left:339.56px;top:78.65px;background:#b0b7d4"></div>
<div class="c" style="left:351.92px;top:78.65px;background:#b75f83"></div>
<div class="c" style="left:364.28px;top:78.65px;background:#8392c1"></div>
<div class="c" style="left:376.64px;top:78.65px;background:#99a4ca"></div>
<div class="c" style="left:389.00px;top:78.65px;background:#a3acce"></div>
<div class="c" style="left:401.36px;top:78.65px;background:#8f9bc5"></div>
<div class="c" style="left:413.72px;top:78.65px;background:#8f9bc5"></div>
<div class="c" style="left:426.08px;top:78.65px;background:#778abd"></div>
<div class="c" style="left:265.40px;top:88.50px;background:#8392c1"></div>
<div class="c" style="left:277.76px;top:88.50px;background:#8f9bc5"></div>
<div class="c" style="left:290.12px;top:88.50px;background:#b0b7d4"></div>
<div class="c" style="left:302.48px;top:88.50px;background:#a3acce"></div>
<div class="c" style="left:314.84px;top:88.50px;background:#8f9bc5"></div>
<div class="c" style="left:327.20px;top:88.50px;background:#99a4ca"></div>
<div class="c" style="left:339.56px;top:88.50px;background:#778abd"></div>
<div class="c" style="left:351.92px;top:88.50px;background:#8392c1"></div>
<div class="c" style="left:364.28px;top:88.50px;background:#b75f83"></div>
<div class="c" style="left:376.64px;top:88.50px;background:#5182c5"></div>
<div class="c" style="left:389.00px;top:88.50px;background:#5182c5"></div>
<div class="c" style="left:401.36px;top:88.50px;background:#778abd"></div>
<div class="c" style="left:413.72px;top:88.50px;background:#5182c5"></div>
<div class="c" style="left:426.08px;top:88.50px;background:#5182c5"></div>
<div class="c" style="left:265.40px;top:98.35px;background:#f1f3f3"></div>
<div class="c" style="left:277.76px;top:98.35px;background:#8f9bc5"></div>
<div class="c" style="left:290.12px;top:98.35px;background:#778abd"></div>
<div class="c" style="left:302.48px;top:98.35px;background:#a3acce"></div>
<div class="c" style="left:314.84px;top:98.35px;background:#b0b7d4"></div>
<div class="c" style="left:327.20px;top:98.35px;background:#bcc2d9"></div>
<div class="c" style="left:339.56px;top:98.35px;background:#dfe1e9"></div>
<div class="c" style="left:351.92px;top:98.35px;background:#99a4ca"></div>
<div class="c" style="left:364.28px;top:98.35px;background:#5182c5"></div>
<div class="c" style="left:376.64px;top:98.35px;background:#b75f83"></div>
<div class="c" style="left:389.00px;top:98.35px;background:#ece5e7"></div>
<div class="c" style="left:401.36px;top:98.35px;background:#e0cdd4"></div>
<div class="c" style="left:413.72px;top:98.35px;background:#d8bcc6"></div>
<div class="c" style="left:426.08px;top:98.35px;background:#d8bcc6"></div>
<div class="c" style="left:265.40px;top:108.20px;background:#e6d8dc"></div>
<div class="c" style="left:277.76px;top:108.20px;background:#8f9bc5"></div>
<div class="c" style="left:290.12px;top:108.20px;background:#8f9bc5"></div>
<div class="c" style="left:302.48px;top:108.20px;background:#8f9bc5"></div>
<div class="c" style="left:314.84px;top:108.20px;background:#dfe1e9"></div>
<div class="c" style="left:327.20px;top:108.20px;background:#cfd2e2"></div>
<div class="c" style="left:339.56px;top:108.20px;background:#cfd2e2"></div>
<div class="c" style="left:351.92px;top:108.20px;background:#a3acce"></div>
<div class="c" style="left:364.28px;top:108.20px;background:#5182c5"></div>
<div class="c" style="left:376.64px;top:108.20px;background:#ece5e7"></div>
<div class="c" style="left:389.00px;top:108.20px;background:#b75f83"></div>
<div class="c" style="left:401.36px;top:108.20px;background:#e0cdd4"></div>
<div class="c" style="left:413.72px;top:108.20px;background:#e0cdd4"></div>
<div class="c" style="left:426.08px;top:108.20px;background:#e0cdd4"></div>
<div class="c" style="left:265.40px;top:118.05px;background:#e6d8dc"></div>
<div class="c" style="left:277.76px;top:118.05px;background:#778abd"></div>
<div class="c" style="left:290.12px;top:118.05px;background:#8f9bc5"></div>
<div class="c" style="left:302.48px;top:118.05px;background:#a3acce"></div>
<div class="c" style="left:314.84px;top:118.05px;background:#cfd2e2"></div>
<div class="c" style="left:327.20px;top:118.05px;background:#d7dae6"></div>
<div class="c" style="left:339.56px;top:118.05px;background:#cfd2e2"></div>
<div class="c" style="left:351.92px;top:118.05px;background:#8f9bc5"></div>
<div class="c" style="left:364.28px;top:118.05px;background:#778abd"></div>
<div class="c" style="left:376.64px;top:118.05px;background:#e0cdd4"></div>
<div class="c" style="left:389.00px;top:118.05px;background:#e0cdd4"></div>
<div class="c" style="left:401.36px;top:118.05px;background:#b75f83"></div>
<div class="c" style="left:413.72px;top:118.05px;background:#dcc4cd"></div>
<div class="c" style="left:426.08px;top:118.05px;background:#dcc4cd"></div>
<div class="c" style="left:265.40px;top:127.90px;background:#f1f3f3"></div>
<div class="c" style="left:277.76px;top:127.90px;background:#8f9bc5"></div>
<div class="c" style="left:290.12px;top:127.90px;background:#778abd"></div>
<div class="c" style="left:302.48px;top:127.90px;background:#a3acce"></div>
<div class="c" style="left:314.84px;top:127.90px;background:#d7dae6"></div>
<div class="c" style="left:327.20px;top:127.90px;background:#d7dae6"></div>
<div class="c" style="left:339.56px;top:127.90px;background:#dfe1e9"></div>
<div class="c" style="left:351.92px;top:127.90px;background:#8f9bc5"></div>
<div class="c" style="left:364.28px;top:127.90px;background:#5182c5"></div>
<div class="c" style="left:376.64px;top:127.90px;background:#d8bcc6"></div>
<div class="c" style="left:389.00px;top:127.90px;background:#e0cdd4"></div>
<div class="c" style="left:401.36px;top:127.90px;background:#dcc4cd"></div>
<div class="c" style="left:413.72px;top:127.90px;background:#b75f83"></div>
<div class="c" style="left:426.08px;top:127.90px;background:#c17894"></div>
<div class="c" style="left:265.40px;top:137.75px;background:#f1f3f3"></div>
<div class="c" style="left:277.76px;top:137.75px;background:#8f9bc5"></div>
<div class="c" style="left:290.12px;top:137.75px;background:#778abd"></div>
<div class="c" style="left:302.48px;top:137.75px;background:#a3acce"></div>
<div class="c" style="left:314.84px;top:137.75px;background:#d7dae6"></div>
<div class="c" style="left:327.20px;top:137.75px;background:#d7dae6"></div>
<div class="c" style="left:339.56px;top:137.75px;background:#c6cade"></div>
<div class="c" style="left:351.92px;top:137.75px;background:#778abd"></div>
<div class="c" style="left:364.28px;top:137.75px;background:#5182c5"></div>
<div class="c" style="left:376.64px;top:137.75px;background:#d8bcc6"></div>
<div class="c" style="left:389.00px;top:137.75px;background:#e0cdd4"></div>
<div class="c" style="left:401.36px;top:137.75px;background:#dcc4cd"></div>
<div class="c" style="left:413.72px;top:137.75px;background:#c17894"></div>
<div class="c" style="left:426.08px;top:137.75px;background:#b75f83"></div>
<div class="tl">
<div class="t" style="left:265.40px;top:11.10px">1.000<i>***</i></div>
<div class="t" style="left:265.40px;top:20.95px">−0.053<i>*</i></div>
<div class="t" style="left:277.76px;top:20.95px">1.000<i>***</i></div>
<div class="t" style="left:265.40px;top:30.80px">−0.045<i>*</i></div>
<div class="t" style="left:277.76px;top:30.80px">−0.001</div>
<div class="t" style="left:290.12px;top:30.80px">1.000<i>***</i></div>
<div class="t" style="left:265.40px;top:40.65px">0.000</div>
<div class="t" style="left:277.76px;top:40.65px">−0.081<i>**</i></div>
<div class="t" style="left:290.12px;top:40.65px">−0.243<i>***</i></div>
<div class="t" style="left:302.48px;top:40.65px">1.000<i>***</i></div>
<div class="t" style="left:265.40px;top:50.50px">0.078<i>**</i></div>
<div class="t" style="left:277.76px;top:50.50px">−0.129<i>***</i></div>
<div class="t" style="left:290.12px;top:50.50px">−0.262<i>***</i></div>
<div class="t" style="left:302.48px;top:50.50px">0.195<i>***</i></div>
<div class="t" style="left:314.84px;top:50.50px">1.000<i>***</i></div>
<div class="t" style="left:265.40px;top:60.35px">0.086<i>**</i></div>
<div class="t" style="left:277.76px;top:60.35px">−0.260<i>***</i></div>
<div class="t" style="left:290.12px;top:60.35px">−0.120<i>***</i></div>
<div class="t" style="left:302.48px;top:60.35px">0.085<i>***</i></div>
<div class="t" style="left:314.84px;top:60.35px">0.320<i>***</i></div>
<div class="t" style="left:327.20px;top:60.35px">1.000<i>***</i></div>
<div class="t" style="left:265.40px;top:70.20px">0.071<i>**</i></div>
<div class="t" style="left:277.76px;top:70.20px">−0.002</div>
<div class="t" style="left:290.12px;top:70.20px">−0.100<i>***</i></div>
<div class="t" style="left:302.48px;top:70.20px">−0.022</div>
<div class="t" style="left:314.84px;top:70.20px">0.085<i>***</i></div>
<div class="t" style="left:327.20px;top:70.20px">0.090<i>***</i></div>
<div class="t" style="left:339.56px;top:70.20px">1.000<i>***</i></div>
<div class="t" style="left:265.40px;top:80.05px">0.009</div>
<div class="t" style="left:277.76px;top:80.05px">0.051<i>*</i></div>
<div class="t" style="left:290.12px;top:80.05px">−0.126<i>***</i></div>
<div class="t" style="left:302.48px;top:80.05px">−0.167<i>***</i></div>
<div class="t" style="left:314.84px;top:80.05px">−0.085<i>***</i></div>
<div class="t" style="left:327.20px;top:80.05px">−0.116<i>***</i></div>
<div class="t" style="left:339.56px;top:80.05px">0.070<i>***</i></div>
<div class="t" style="left:351.92px;top:80.05px">1.000<i>***</i></div>
<div class="t" style="left:265.40px;top:89.90px">−0.078<i>**</i></div>
<div class="t" style="left:277.76px;top:89.90px">−0.027</div>
<div class="t" style="left:290.12px;top:89.90px">0.118<i>***</i></div>
<div class="t" style="left:302.48px;top:89.90px">0.003</div>
<div class="t" style="left:314.84px;top:89.90px">−0.089<i>***</i></div>
<div class="t" style="left:327.20px;top:89.90px">−0.021</div>
<div class="t" style="left:339.56px;top:89.90px">−0.108<i>***</i></div>
<div class="t" style="left:351.92px;top:89.90px">−0.118<i>***</i></div>
<div class="t" style="left:364.28px;top:89.90px">1.000<i>***</i></div>
<div class="t" style="left:265.40px;top:99.75px">0.342<i>***</i></div>
<div class="t" style="left:277.76px;top:99.75px">−0.043</div>
<div class="t" style="left:290.12px;top:99.75px">−0.109<i>***</i></div>
<div class="t" style="left:302.48px;top:99.75px">0.013</div>
<div class="t" style="left:314.84px;top:99.75px">0.081<i>***</i></div>
<div class="t" style="left:327.20px;top:99.75px">0.168<i>***</i></div>
<div class="t" style="left:339.56px;top:99.75px">0.208<i>***</i></div>
<div class="t" style="left:351.92px;top:99.75px">−0.060<i>**</i></div>
<div class="t" style="left:364.28px;top:99.75px">−0.228<i>***</i></div>
<div class="t" style="left:376.64px;top:99.75px">1.000<i>***</i></div>
<div class="t" style="left:265.40px;top:109.60px">0.450<i>***</i></div>
<div class="t" style="left:277.76px;top:109.60px">−0.048<i>*</i></div>
<div class="t" style="left:290.12px;top:109.60px">−0.086<i>***</i></div>
<div class="t" style="left:302.48px;top:109.60px">−0.030</div>
<div class="t" style="left:314.84px;top:109.60px">0.200<i>***</i></div>
<div class="t" style="left:327.20px;top:109.60px">0.200<i>***</i></div>
<div class="t" style="left:339.56px;top:109.60px">0.201<i>***</i></div>
<div class="t" style="left:351.92px;top:109.60px">0.001</div>
<div class="t" style="left:364.28px;top:109.60px">−0.223<i>***</i></div>
<div class="t" style="left:376.64px;top:109.60px">0.469<i>***</i></div>
<div class="t" style="left:389.00px;top:109.60px">1.000<i>***</i></div>
<div class="t" style="left:265.40px;top:119.45px">0.458<i>***</i></div>
<div class="t" style="left:277.76px;top:119.45px">−0.119<i>***</i></div>
<div class="t" style="left:290.12px;top:119.45px">−0.030<i>*</i></div>
<div class="t" style="left:302.48px;top:119.45px">0.012</div>
<div class="t" style="left:314.84px;top:119.45px">0.160<i>***</i></div>
<div class="t" style="left:327.20px;top:119.45px">0.260<i>***</i></div>
<div class="t" style="left:339.56px;top:119.45px">0.258<i>***</i></div>
<div class="t" style="left:351.92px;top:119.45px">−0.084<i>***</i></div>
<div class="t" style="left:364.28px;top:119.45px">−0.150<i>***</i></div>
<div class="t" style="left:376.64px;top:119.45px">0.451<i>***</i></div>
<div class="t" style="left:389.00px;top:119.45px">0.542<i>***</i></div>
<div class="t" style="left:401.36px;top:119.45px">1.000<i>***</i></div>
<div class="t" style="left:265.40px;top:129.30px">0.343<i>***</i></div>
<div class="t" style="left:277.76px;top:129.30px">−0.075<i>***</i></div>
<div class="t" style="left:290.12px;top:129.30px">−0.109<i>***</i></div>
<div class="t" style="left:302.48px;top:129.30px">0.069</div>
<div class="t" style="left:314.84px;top:129.30px">0.216<i>***</i></div>
<div class="t" style="left:327.20px;top:129.30px">0.207<i>***</i></div>
<div class="t" style="left:339.56px;top:129.30px">0.075<i>***</i></div>
<div class="t" style="left:351.92px;top:129.30px">0.005</div>
<div class="t" style="left:364.28px;top:129.30px">−0.278<i>***</i></div>
<div class="t" style="left:376.64px;top:129.30px">0.578<i>***</i></div>
<div class="t" style="left:389.00px;top:129.30px">0.513<i>***</i></div>
<div class="t" style="left:401.36px;top:129.30px">0.506<i>***</i></div>
<div class="t" style="left:413.72px;top:129.30px">1.000<i>***</i></div>
<div class="t" style="left:265.40px;top:139.15px">0.351<i>***</i></div>
<div class="t" style="left:277.76px;top:139.15px">−0.045</div>
<div class="t" style="left:290.12px;top:139.15px">−0.124<i>***</i></div>
<div class="t" style="left:302.48px;top:139.15px">0.012</div>
<div class="t" style="left:314.84px;top:139.15px">0.332<i>***</i></div>
<div class="t" style="left:327.20px;top:139.15px">0.349<i>***</i></div>
<div class="t" style="left:339.56px;top:139.15px">0.165<i>***</i></div>
<div class="t" style="left:351.92px;top:139.15px">−0.167<i>**</i></div>
<div class="t" style="left:364.28px;top:139.15px">−0.217<i>***</i></div>
<div class="t" style="left:376.64px;top:139.15px">0.588<i>***</i></div>
<div class="t" style="left:389.00px;top:139.15px">0.524<i>***</i></div>
<div class="t" style="left:401.36px;top:139.15px">0.587<i>***</i></div>
<div class="t" style="left:413.72px;top:139.15px">0.846<i>***</i></div>
<div class="t" style="left:426.08px;top:139.15px">1.000<i>***</i></div>
</div>
<div class="st" style="left:262.60px;top:14.32px"></div>
<div class="st" style="left:438.44px;top:14.32px"></div>
<div class="st" style="left:262.60px;top:24.17px"></div>
<div class="st" style="left:438.44px;top:24.17px"></div>
<div class="st" style="left:262.60px;top:34.02px"></div>
<div class="st" style="left:438.44px;top:34.02px"></div>
<div class="st" style="left:262.60px;top:43.88px"></div>
<div class="st" style="left:438.44px;top:43.88px"></div>
<div class="st" style="left:262.60px;top:53.72px"></div>
<div class="st" style="left:438.44px;top:53.72px"></div>
<div class="st" style="left:262.60px;top:63.58px"></div>
<div class="st" style="left:438.44px;top:63.58px"></div>
<div class="st" style="left:262.60px;top:73.42px"></div>
<div class="st" style="left:438.44px;top:73.42px"></div>
<div class="st" style="left:262.60px;top:83.28px"></div>
<div class="st" style="left:438.44px;top:83.28px"></div>
<div class="st" style="left:262.60px;top:93.12px"></div>
<div class="st" style="left:438.44px;top:93.12px"></div>
<div class="st" style="left:262.60px;top:102.97px"></div>
<div class="st" style="left:438.44px;top:102.97px"></div>
<div class="st" style="left:262.60px;top:112.83px"></div>
<div class="st" style="left:438.44px;top:112.83px"></div>
<div class="st" style="left:262.60px;top:122.67px"></div>
<div class="st" style="left:438.44px;top:122.67px"></div>
<div class="st" style="left:262.60px;top:132.52px"></div>
<div class="st" style="left:438.44px;top:132.52px"></div>
<div class="st" style="left:262.60px;top:142.37px"></div>
<div class="st" style="left:438.44px;top:142.37px"></div>
<div class="ax" style="left:261.25px;top:5.80px;width:0.9px;height:145.80px"></div>
<div class="ax" style="left:261.25px;top:150.75px;width:181.00px;height:0.9px"></div>
<div class="tk" style="left:259.60px;top:14.28px;width:2.1px;height:0.7px"></div>
<div class="yl" style="left:228.40px;top:12.43px">DM</div>
<div class="tk" style="left:259.60px;top:24.12px;width:2.1px;height:0.7px"></div>
<div class="yl" style="left:228.40px;top:22.27px">Gen.</div>
<div class="tk" style="left:259.60px;top:33.97px;width:2.1px;height:0.7px"></div>
<div class="yl" style="left:228.40px;top:32.12px">Age</div>
<div class="tk" style="left:259.60px;top:43.82px;width:2.1px;height:0.7px"></div>
<div class="yl" style="left:228.40px;top:41.97px">Mar.</div>
<div class="tk" style="left:259.60px;top:53.67px;width:2.1px;height:0.7px"></div>
<div class="yl" style="left:228.40px;top:51.82px">Edu.</div>
<div class="tk" style="left:259.60px;top:63.52px;width:2.1px;height:0.7px"></div>
<div class="yl" style="left:228.40px;top:61.67px">Emp.</div>
<div class="tk" style="left:259.60px;top:73.38px;width:2.1px;height:0.7px"></div>
<div class="yl" style="left:228.40px;top:71.52px">SocE</div>
<div class="tk" style="left:259.60px;top:83.23px;width:2.1px;height:0.7px"></div>
<div class="yl" style="left:228.40px;top:81.38px">HHsize</div>
<div class="tk" style="left:259.60px;top:93.08px;width:2.1px;height:0.7px"></div>
<div class="yl" style="left:228.40px;top:91.22px">DE</div>
<div class="tk" style="left:259.60px;top:102.92px;width:2.1px;height:0.7px"></div>
<div class="yl" style="left:228.40px;top:101.07px">PHS</div>
<div class="tk" style="left:259.60px;top:112.78px;width:2.1px;height:0.7px"></div>
<div class="yl" style="left:228.40px;top:110.92px">MP</div>
<div class="tk" style="left:259.60px;top:122.62px;width:2.1px;height:0.7px"></div>
<div class="yl" style="left:228.40px;top:120.77px">NMP</div>
<div class="tk" style="left:259.60px;top:132.47px;width:2.1px;height:0.7px"></div>
<div class="yl" style="left:228.40px;top:130.62px">Ethn.</div>
<div class="tk" style="left:259.60px;top:142.32px;width:2.1px;height:0.7px"></div>
<div class="yl" style="left:228.40px;top:140.47px">Prov.</div>
<div class="tk" style="left:271.23px;top:151.40px;width:0.7px;height:2.3px"></div>
<div class="xl" style="left:261.58px;top:153.60px">DM</div>
<div class="tk" style="left:283.59px;top:151.40px;width:0.7px;height:2.3px"></div>
<div class="xl" style="left:273.94px;top:153.60px">Gen.</div>
<div class="tk" style="left:295.95px;top:151.40px;width:0.7px;height:2.3px"></div>
<div class="xl" style="left:286.30px;top:153.60px">Age</div>
<div class="tk" style="left:308.31px;top:151.40px;width:0.7px;height:2.3px"></div>
<div class="xl" style="left:298.66px;top:153.60px">Mar.</div>
<div class="tk" style="left:320.67px;top:151.40px;width:0.7px;height:2.3px"></div>
<div class="xl" style="left:311.02px;top:153.60px">Edu.</div>
<div class="tk" style="left:333.03px;top:151.40px;width:0.7px;height:2.3px"></div>
<div class="xl" style="left:323.38px;top:153.60px">Emp.</div>
<div class="tk" style="left:345.39px;top:151.40px;width:0.7px;height:2.3px"></div>
<div class="xl" style="left:335.74px;top:153.60px">SocE</div>
<div class="tk" style="left:357.75px;top:151.40px;width:0.7px;height:2.3px"></div>
<div class="xl" style="left:348.10px;top:153.60px">HHsize</div>
<div class="tk" style="left:370.11px;top:151.40px;width:0.7px;height:2.3px"></div>
<div class="xl" style="left:360.46px;top:153.60px">DE</div>
<div class="tk" style="left:382.47px;top:151.40px;width:0.7px;height:2.3px"></div>
<div class="xl" style="left:372.82px;top:153.60px">PHS</div>
<div class="tk" style="left:394.83px;top:151.40px;width:0.7px;height:2.3px"></div>
<div class="xl" style="left:385.18px;top:153.60px">MP</div>
<div class="tk" style="left:407.19px;top:151.40px;width:0.7px;height:2.3px"></div>
<div class="xl" style="left:397.54px;top:153.60px">NMP</div>
<div class="tk" style="left:419.55px;top:151.40px;width:0.7px;height:2.3px"></div>
<div class="xl" style="left:409.90px;top:153.60px">Ethn.</div>
<div class="tk" style="left:431.91px;top:151.40px;width:0.7px;height:2.3px"></div>
<div class="xl" style="left:422.26px;top:153.60px">Prov.</div>
<div class="bx" style="left:227.60px;top:0.00px;width:229.20px;height:167.00px"></div>
<div class="cap" style="left:299.97px;top:168.79px;font-size:8.80px;line-height:10.12px;transform:scaleX(1.0013)">(b)Disaster management</div>
<div class="c" style="left:493.30px;top:9.70px;background:#b75f83"></div>
<div class="c" style="left:505.66px;top:9.70px;background:#8f9bc5"></div>
<div class="c" style="left:518.02px;top:9.70px;background:#8f9bc5"></div>
<div class="c" style="left:530.38px;top:9.70px;background:#8f9bc5"></div>
<div class="c" style="left:542.74px;top:9.70px;background:#b0b7d4"></div>
<div class="c" style="left:555.10px;top:9.70px;background:#b0b7d4"></div>
<div class="c" style="left:567.46px;top:9.70px;background:#c6cade"></div>
<div class="c" style="left:579.82px;top:9.70px;background:#a3acce"></div>
<div class="c" style="left:592.18px;top:9.70px;background:#8f9bc5"></div>
<div class="c" style="left:604.54px;top:9.70px;background:#f1f3f3"></div>
<div class="c" style="left:616.90px;top:9.70px;background:#f1f3f3"></div>
<div class="c" style="left:629.26px;top:9.70px;background:#e6d8dc"></div>
<div class="c" style="left:641.62px;top:9.70px;background:#f1f3f3"></div>
<div class="c" style="left:653.98px;top:9.70px;background:#f1f3f3"></div>
<div class="c" style="left:493.30px;top:19.55px;background:#8f9bc5"></div>
<div class="c" style="left:505.66px;top:19.55px;background:#b75f83"></div>
<div class="c" style="left:518.02px;top:19.55px;background:#8f9bc5"></div>
<div class="c" style="left:530.38px;top:19.55px;background:#8f9bc5"></div>
<div class="c" style="left:542.74px;top:19.55px;background:#778abd"></div>
<div class="c" style="left:555.10px;top:19.55px;background:#5182c5"></div>
<div class="c" style="left:567.46px;top:19.55px;background:#a3acce"></div>
<div class="c" style="left:579.82px;top:19.55px;background:#b0b7d4"></div>
<div class="c" style="left:592.18px;top:19.55px;background:#8f9bc5"></div>
<div class="c" style="left:604.54px;top:19.55px;background:#8f9bc5"></div>
<div class="c" style="left:616.90px;top:19.55px;background:#8f9bc5"></div>
<div class="c" style="left:629.26px;top:19.55px;background:#778abd"></div>
<div class="c" style="left:641.62px;top:19.55px;background:#8f9bc5"></div>
<div class="c" style="left:653.98px;top:19.55px;background:#8f9bc5"></div>
<div class="c" style="left:493.30px;top:29.40px;background:#8f9bc5"></div>
<div class="c" style="left:505.66px;top:29.40px;background:#8f9bc5"></div>
<div class="c" style="left:518.02px;top:29.40px;background:#b75f83"></div>
<div class="c" style="left:530.38px;top:29.40px;background:#5182c5"></div>
<div class="c" style="left:542.74px;top:29.40px;background:#5182c5"></div>
<div class="c" style="left:555.10px;top:29.40px;background:#778abd"></div>
<div class="c" style="left:567.46px;top:29.40px;background:#778abd"></div>
<div class="c" style="left:579.82px;top:29.40px;background:#778abd"></div>
<div class="c" style="left:592.18px;top:29.40px;background:#b0b7d4"></div>
<div class="c" style="left:604.54px;top:29.40px;background:#778abd"></div>
<div class="c" style="left:616.90px;top:29.40px;background:#8f9bc5"></div>
<div class="c" style="left:629.26px;top:29.40px;background:#8f9bc5"></div>
<div class="c" style="left:641.62px;top:29.40px;background:#778abd"></div>
<div class="c" style="left:653.98px;top:29.40px;background:#778abd"></div>
<div class="c" style="left:493.30px;top:39.25px;background:#8f9bc5"></div>
<div class="c" style="left:505.66px;top:39.25px;background:#8f9bc5"></div>
<div class="c" style="left:518.02px;top:39.25px;background:#5182c5"></div>
<div class="c" style="left:530.38px;top:39.25px;background:#b75f83"></div>
<div class="c" style="left:542.74px;top:39.25px;background:#dfe1e9"></div>
<div class="c" style="left:555.10px;top:39.25px;background:#a3acce"></div>
<div class="c" style="left:567.46px;top:39.25px;background:#a3acce"></div>
<div class="c" style="left:579.82px;top:39.25px;background:#8392c1"></div>
<div class="c" style="left:592.18px;top:39.25px;background:#a3acce"></div>
<div class="c" style="left:604.54px;top:39.25px;background:#a3acce"></div>
<div class="c" style="left:616.90px;top:39.25px;background:#8f9bc5"></div>
<div class="c" style="left:629.26px;top:39.25px;background:#a3acce"></div>
<div class="c" style="left:641.62px;top:39.25px;background:#a3acce"></div>
<div class="c" style="left:653.98px;top:39.25px;background:#a3acce"></div>
<div class="c" style="left:493.30px;top:49.10px;background:#b0b7d4"></div>
<div class="c" style="left:505.66px;top:49.10px;background:#778abd"></div>
<div class="c" style="left:518.02px;top:49.10px;background:#5182c5"></div>
<div class="c" style="left:530.38px;top:49.10px;background:#dfe1e9"></div>
<div class="c" style="left:542.74px;top:49.10px;background:#b75f83"></div>
<div class="c" style="left:555.10px;top:49.10px;background:#e8eaee"></div>
<div class="c" style="left:567.46px;top:49.10px;background:#b0b7d4"></div>
<div class="c" style="left:579.82px;top:49.10px;background:#8392c1"></div>
<div class="c" style="left:592.18px;top:49.10px;background:#8f9bc5"></div>
<div class="c" style="left:604.54px;top:49.10px;background:#b0b7d4"></div>
<div class="c" style="left:616.90px;top:49.10px;background:#dfe1e9"></div>
<div class="c" style="left:629.26px;top:49.10px;background:#cfd2e2"></div>
<div class="c" style="left:641.62px;top:49.10px;background:#d7dae6"></div>
<div class="c" style="left:653.98px;top:49.10px;background:#d7dae6"></div>
<div class="c" style="left:493.30px;top:58.95px;background:#b0b7d4"></div>
<div class="c" style="left:505.66px;top:58.95px;background:#5182c5"></div>
<div class="c" style="left:518.02px;top:58.95px;background:#778abd"></div>
<div class="c" style="left:530.38px;top:58.95px;background:#a3acce"></div>
<div class="c" style="left:542.74px;top:58.95px;background:#e8eaee"></div>
<div class="c" style="left:555.10px;top:58.95px;background:#b75f83"></div>
<div class="c" style="left:567.46px;top:58.95px;background:#bcc2d9"></div>
<div class="c" style="left:579.82px;top:58.95px;background:#778abd"></div>
<div class="c" style="left:592.18px;top:58.95px;background:#99a4ca"></div>
<div class="c" style="left:604.54px;top:58.95px;background:#bcc2d9"></div>
<div class="c" style="left:616.90px;top:58.95px;background:#cfd2e2"></div>
<div class="c" style="left:629.26px;top:58.95px;background:#d7dae6"></div>
<div class="c" style="left:641.62px;top:58.95px;background:#d7dae6"></div>
<div class="c" style="left:653.98px;top:58.95px;background:#d7dae6"></div>
<div class="c" style="left:493.30px;top:68.80px;background:#c6cade"></div>
<div class="c" style="left:505.66px;top:68.80px;background:#a3acce"></div>
<div class="c" style="left:518.02px;top:68.80px;background:#778abd"></div>
<div class="c" style="left:530.38px;top:68.80px;background:#a3acce"></div>
<div class="c" style="left:542.74px;top:68.80px;background:#b0b7d4"></div>
<div class="c" style="left:555.10px;top:68.80px;background:#bcc2d9"></div>
<div class="c" style="left:567.46px;top:68.80px;background:#b75f83"></div>
<div class="c" style="left:579.82px;top:68.80px;background:#b0b7d4"></div>
<div class="c" style="left:592.18px;top:68.80px;background:#778abd"></div>
<div class="c" style="left:604.54px;top:68.80px;background:#dfe1e9"></div>
<div class="c" style="left:616.90px;top:68.80px;background:#cfd2e2"></div>
<div class="c" style="left:629.26px;top:68.80px;background:#cfd2e2"></div>
<div class="c" style="left:641.62px;top:68.80px;background:#dfe1e9"></div>
<div class="c" style="left:653.98px;top:68.80px;background:#c6cade"></div>
<div class="c" style="left:493.30px;top:78.65px;background:#a3acce"></div>
<div class="c" style="left:505.66px;top:78.65px;background:#b0b7d4"></div>
<div class="c" style="left:518.02px;top:78.65px;background:#778abd"></div>
<div class="c" style="left:530.38px;top:78.65px;background:#8392c1"></div>
<div class="c" style="left:542.74px;top:78.65px;background:#8392c1"></div>
<div class="c" style="left:555.10px;top:78.65px;background:#778abd"></div>
<div class="c" style="left:567.46px;top:78.65px;background:#b0b7d4"></div>
<div class="c" style="left:579.82px;top:78.65px;background:#b75f83"></div>
<div class="c" style="left:592.18px;top:78.65px;background:#8392c1"></div>
<div class="c" style="left:604.54px;top:78.65px;background:#99a4ca"></div>
<div class="c" style="left:616.90px;top:78.65px;background:#a3acce"></div>
<div class="c" style="left:629.26px;top:78.65px;background:#8f9bc5"></div>
<div class="c" style="left:641.62px;top:78.65px;background:#8f9bc5"></div>
<div class="c" style="left:653.98px;top:78.65px;background:#778abd"></div>
<div class="c" style="left:493.30px;top:88.50px;background:#8f9bc5"></div>
<div class="c" style="left:505.66px;top:88.50px;background:#8f9bc5"></div>
<div class="c" style="left:518.02px;top:88.50px;background:#b0b7d4"></div>
<div class="c" style="left:530.38px;top:88.50px;background:#a3acce"></div>
<div class="c" style="left:542.74px;top:88.50px;background:#8f9bc5"></div>
<div class="c" style="left:555.10px;top:88.50px;background:#99a4ca"></div>
<div class="c" style="left:567.46px;top:88.50px;background:#778abd"></div>
<div class="c" style="left:579.82px;top:88.50px;background:#8392c1"></div>
<div class="c" style="left:592.18px;top:88.50px;background:#b75f83"></div>
<div class="c" style="left:604.54px;top:88.50px;background:#5182c5"></div>
<div class="c" style="left:616.90px;top:88.50px;background:#5182c5"></div>
<div class="c" style="left:629.26px;top:88.50px;background:#778abd"></div>
<div class="c" style="left:641.62px;top:88.50px;background:#5182c5"></div>
<div class="c" style="left:653.98px;top:88.50px;background:#5182c5"></div>
<div class="c" style="left:493.30px;top:98.35px;background:#f1f3f3"></div>
<div class="c" style="left:505.66px;top:98.35px;background:#8f9bc5"></div>
<div class="c" style="left:518.02px;top:98.35px;background:#778abd"></div>
<div class="c" style="left:530.38px;top:98.35px;background:#a3acce"></div>
<div class="c" style="left:542.74px;top:98.35px;background:#b0b7d4"></div>
<div class="c" style="left:555.10px;top:98.35px;background:#bcc2d9"></div>
<div class="c" style="left:567.46px;top:98.35px;background:#dfe1e9"></div>
<div class="c" style="left:579.82px;top:98.35px;background:#99a4ca"></div>
<div class="c" style="left:592.18px;top:98.35px;background:#5182c5"></div>
<div class="c" style="left:604.54px;top:98.35px;background:#b75f83"></div>
<div class="c" style="left:616.90px;top:98.35px;background:#ece5e7"></div>
<div class="c" style="left:629.26px;top:98.35px;background:#e0cdd4"></div>
<div class="c" style="left:641.62px;top:98.35px;background:#d8bcc6"></div>
<div class="c" style="left:653.98px;top:98.35px;background:#d8bcc6"></div>
<div class="c" style="left:493.30px;top:108.20px;background:#f1f3f3"></div>
<div class="c" style="left:505.66px;top:108.20px;background:#8f9bc5"></div>
<div class="c" style="left:518.02px;top:108.20px;background:#8f9bc5"></div>
<div class="c" style="left:530.38px;top:108.20px;background:#8f9bc5"></div>
<div class="c" style="left:542.74px;top:108.20px;background:#dfe1e9"></div>
<div class="c" style="left:555.10px;top:108.20px;background:#cfd2e2"></div>
<div class="c" style="left:567.46px;top:108.20px;background:#cfd2e2"></div>
<div class="c" style="left:579.82px;top:108.20px;background:#a3acce"></div>
<div class="c" style="left:592.18px;top:108.20px;background:#5182c5"></div>
<div class="c" style="left:604.54px;top:108.20px;background:#ece5e7"></div>
<div class="c" style="left:616.90px;top:108.20px;background:#b75f83"></div>
<div class="c" style="left:629.26px;top:108.20px;background:#e0cdd4"></div>
<div class="c" style="left:641.62px;top:108.20px;background:#e0cdd4"></div>
<div class="c" style="left:653.98px;top:108.20px;background:#e0cdd4"></div>
<div class="c" style="left:493.30px;top:118.05px;background:#e6d8dc"></div>
<div class="c" style="left:505.66px;top:118.05px;background:#778abd"></div>
<div class="c" style="left:518.02px;top:118.05px;background:#8f9bc5"></div>
<div class="c" style="left:530.38px;top:118.05px;background:#a3acce"></div>
<div class="c" style="left:542.74px;top:118.05px;background:#cfd2e2"></div>
<div class="c" style="left:555.10px;top:118.05px;background:#d7dae6"></div>
<div class="c" style="left:567.46px;top:118.05px;background:#cfd2e2"></div>
<div class="c" style="left:579.82px;top:118.05px;background:#8f9bc5"></div>
<div class="c" style="left:592.18px;top:118.05px;background:#778abd"></div>
<div class="c" style="left:604.54px;top:118.05px;background:#e0cdd4"></div>
<div class="c" style="left:616.90px;top:118.05px;background:#e0cdd4"></div>
<div class="c" style="left:629.26px;top:118.05px;background:#b75f83"></div>
<div class="c" style="left:641.62px;top:118.05px;background:#dcc4cd"></div>
<div class="c" style="left:653.98px;top:118.05px;background:#dcc4cd"></div>
<div class="c" style="left:493.30px;top:127.90px;background:#f1f3f3"></div>
<div class="c" style="left:505.66px;top:127.90px;background:#8f9bc5"></div>
<div class="c" style="left:518.02px;top:127.90px;background:#778abd"></div>
<div class="c" style="left:530.38px;top:127.90px;background:#a3acce"></div>
<div class="c" style="left:542.74px;top:127.90px;background:#d7dae6"></div>
<div class="c" style="left:555.10px;top:127.90px;background:#d7dae6"></div>
<div class="c" style="left:567.46px;top:127.90px;background:#dfe1e9"></div>
<div class="c" style="left:579.82px;top:127.90px;background:#8f9bc5"></div>
<div class="c" style="left:592.18px;top:127.90px;background:#5182c5"></div>
<div class="c" style="left:604.54px;top:127.90px;background:#d8bcc6"></div>
<div class="c" style="left:616.90px;top:127.90px;background:#e0cdd4"></div>
<div class="c" style="left:629.26px;top:127.90px;background:#dcc4cd"></div>
<div class="c" style="left:641.62px;top:127.90px;background:#b75f83"></div>
<div class="c" style="left:653.98px;top:127.90px;background:#c17894"></div>
<div class="c" style="left:493.30px;top:137.75px;background:#f1f3f3"></div>
<div class="c" style="left:505.66px;top:137.75px;background:#8f9bc5"></div>
<div class="c" style="left:518.02px;top:137.75px;background:#778abd"></div>
<div class="c" style="left:530.38px;top:137.75px;background:#a3acce"></div>
<div class="c" style="left:542.74px;top:137.75px;background:#d7dae6"></div>
<div class="c" style="left:555.10px;top:137.75px;background:#d7dae6"></div>
<div class="c" style="left:567.46px;top:137.75px;background:#c6cade"></div>
<div class="c" style="left:579.82px;top:137.75px;background:#778abd"></div>
<div class="c" style="left:592.18px;top:137.75px;background:#5182c5"></div>
<div class="c" style="left:604.54px;top:137.75px;background:#d8bcc6"></div>
<div class="c" style="left:616.90px;top:137.75px;background:#e0cdd4"></div>
<div class="c" style="left:629.26px;top:137.75px;background:#dcc4cd"></div>
<div class="c" style="left:641.62px;top:137.75px;background:#c17894"></div>
<div class="c" style="left:653.98px;top:137.75px;background:#b75f83"></div>
<div class="tl">
<div class="t" style="left:493.30px;top:11.10px">1.000<i>***</i></div>
<div class="t" style="left:493.30px;top:20.95px">−0.053<i>*</i></div>
<div class="t" style="left:505.66px;top:20.95px">1.000<i>***</i></div>
<div class="t" style="left:493.30px;top:30.80px">−0.045<i>*</i></div>
<div class="t" style="left:505.66px;top:30.80px">−0.001</div>
<div class="t" style="left:518.02px;top:30.80px">1.000<i>***</i></div>
<div class="t" style="left:493.30px;top:40.65px">−0.060<i>*</i></div>
<div class="t" style="left:505.66px;top:40.65px">−0.081<i>**</i></div>
<div class="t" style="left:518.02px;top:40.65px">−0.243<i>***</i></div>
<div class="t" style="left:530.38px;top:40.65px">1.000<i>***</i></div>
<div class="t" style="left:493.30px;top:50.50px">0.078<i>**</i></div>
<div class="t" style="left:505.66px;top:50.50px">−0.129<i>***</i></div>
<div class="t" style="left:518.02px;top:50.50px">−0.262<i>***</i></div>
<div class="t" style="left:530.38px;top:50.50px">0.195<i>***</i></div>
<div class="t" style="left:542.74px;top:50.50px">1.000<i>***</i></div>
<div class="t" style="left:493.30px;top:60.35px">0.086<i>**</i></div>
<div class="t" style="left:505.66px;top:60.35px">−0.260<i>***</i></div>
<div class="t" style="left:518.02px;top:60.35px">−0.120<i>***</i></div>
<div class="t" style="left:530.38px;top:60.35px">0.085<i>***</i></div>
<div class="t" style="left:542.74px;top:60.35px">0.320<i>***</i></div>
<div class="t" style="left:555.10px;top:60.35px">1.000<i>***</i></div>
<div class="t" style="left:493.30px;top:70.20px">0.126<i>***</i></div>
<div class="t" style="left:505.66px;top:70.20px">−0.002</div>
<div class="t" style="left:518.02px;top:70.20px">−0.100<i>***</i></div>
<div class="t" style="left:530.38px;top:70.20px">−0.022</div>
<div class="t" style="left:542.74px;top:70.20px">0.085<i>***</i></div>
<div class="t" style="left:555.10px;top:70.20px">0.090<i>***</i></div>
<div class="t" style="left:567.46px;top:70.20px">1.000<i>***</i></div>
<div class="t" style="left:493.30px;top:80.05px">0.009</div>
<div class="t" style="left:505.66px;top:80.05px">0.051<i>*</i></div>
<div class="t" style="left:518.02px;top:80.05px">−0.126<i>***</i></div>
<div class="t" style="left:530.38px;top:80.05px">−0.167<i>***</i></div>
<div class="t" style="left:542.74px;top:80.05px">−0.085<i>***</i></div>
<div class="t" style="left:555.10px;top:80.05px">−0.116<i>***</i></div>
<div class="t" style="left:567.46px;top:80.05px">0.070<i>***</i></div>
<div class="t" style="left:579.82px;top:80.05px">1.000<i>***</i></div>
<div class="t" style="left:493.30px;top:89.90px">−0.043<i>*</i></div>
<div class="t" style="left:505.66px;top:89.90px">−0.027</div>
<div class="t" style="left:518.02px;top:89.90px">0.118<i>***</i></div>
<div class="t" style="left:530.38px;top:89.90px">0.003</div>
<div class="t" style="left:542.74px;top:89.90px">−0.089<i>***</i></div>
<div class="t" style="left:555.10px;top:89.90px">−0.021</div>
<div class="t" style="left:567.46px;top:89.90px">−0.108<i>***</i></div>
<div class="t" style="left:579.82px;top:89.90px">−0.118<i>***</i></div>
<div class="t" style="left:592.18px;top:89.90px">1.000<i>***</i></div>
<div class="t" style="left:493.30px;top:99.75px">0.342<i>***</i></div>
<div class="t" style="left:505.66px;top:99.75px">−0.043</div>
<div class="t" style="left:518.02px;top:99.75px">−0.109<i>***</i></div>
<div class="t" style="left:530.38px;top:99.75px">0.013</div>
<div class="t" style="left:542.74px;top:99.75px">0.081<i>***</i></div>
<div class="t" style="left:555.10px;top:99.75px">0.168<i>***</i></div>
<div class="t" style="left:567.46px;top:99.75px">0.208<i>***</i></div>
<div class="t" style="left:579.82px;top:99.75px">−0.060<i>**</i></div>
<div class="t" style="left:592.18px;top:99.75px">−0.228<i>***</i></div>
<div class="t" style="left:604.54px;top:99.75px">1.000<i>***</i></div>
<div class="t" style="left:493.30px;top:109.60px">0.350<i>***</i></div>
<div class="t" style="left:505.66px;top:109.60px">−0.048<i>*</i></div>
<div class="t" style="left:518.02px;top:109.60px">−0.086<i>***</i></div>
<div class="t" style="left:530.38px;top:109.60px">−0.030</div>
<div class="t" style="left:542.74px;top:109.60px">0.200<i>***</i></div>
<div class="t" style="left:555.10px;top:109.60px">0.200<i>***</i></div>
<div class="t" style="left:567.46px;top:109.60px">0.201<i>***</i></div>
<div class="t" style="left:579.82px;top:109.60px">0.001</div>
<div class="t" style="left:592.18px;top:109.60px">−0.223<i>***</i></div>
<div class="t" style="left:604.54px;top:109.60px">0.469<i>***</i></div>
<div class="t" style="left:616.90px;top:109.60px">1.000<i>***</i></div>
<div class="t" style="left:493.30px;top:119.45px">0.458<i>***</i></div>
<div class="t" style="left:505.66px;top:119.45px">−0.119<i>***</i></div>
<div class="t" style="left:518.02px;top:119.45px">−0.030<i>*</i></div>
<div class="t" style="left:530.38px;top:119.45px">0.012</div>
<div class="t" style="left:542.74px;top:119.45px">0.160<i>***</i></div>
<div class="t" style="left:555.10px;top:119.45px">0.260<i>***</i></div>
<div class="t" style="left:567.46px;top:119.45px">0.258<i>***</i></div>
<div class="t" style="left:579.82px;top:119.45px">−0.084<i>***</i></div>
<div class="t" style="left:592.18px;top:119.45px">−0.150<i>***</i></div>
<div class="t" style="left:604.54px;top:119.45px">0.451<i>***</i></div>
<div class="t" style="left:616.90px;top:119.45px">0.542<i>***</i></div>
<div class="t" style="left:629.26px;top:119.45px">1.000<i>***</i></div>
<div class="t" style="left:493.30px;top:129.30px">0.343<i>***</i></div>
<div class="t" style="left:505.66px;top:129.30px">−0.075<i>***</i></div>
<div class="t" style="left:518.02px;top:129.30px">−0.109<i>***</i></div>
<div class="t" style="left:530.38px;top:129.30px">0.069</div>
<div class="t" style="left:542.74px;top:129.30px">0.216<i>***</i></div>
<div class="t" style="left:555.10px;top:129.30px">0.207<i>***</i></div>
<div class="t" style="left:567.46px;top:129.30px">0.075<i>***</i></div>
<div class="t" style="left:579.82px;top:129.30px">0.005</div>
<div class="t" style="left:592.18px;top:129.30px">−0.278<i>***</i></div>
<div class="t" style="left:604.54px;top:129.30px">0.578<i>***</i></div>
<div class="t" style="left:616.90px;top:129.30px">0.513<i>***</i></div>
<div class="t" style="left:629.26px;top:129.30px">0.506<i>***</i></div>
<div class="t" style="left:641.62px;top:129.30px">1.000<i>***</i></div>
<div class="t" style="left:493.30px;top:139.15px">0.351<i>***</i></div>
<div class="t" style="left:505.66px;top:139.15px">−0.045</div>
<div class="t" style="left:518.02px;top:139.15px">−0.124<i>***</i></div>
<div class="t" style="left:530.38px;top:139.15px">0.012</div>
<div class="t" style="left:542.74px;top:139.15px">0.332<i>***</i></div>
<div class="t" style="left:555.10px;top:139.15px">0.349<i>***</i></div>
<div class="t" style="left:567.46px;top:139.15px">0.165<i>***</i></div>
<div class="t" style="left:579.82px;top:139.15px">−0.167<i>**</i></div>
<div class="t" style="left:592.18px;top:139.15px">−0.217<i>***</i></div>
<div class="t" style="left:604.54px;top:139.15px">0.588<i>***</i></div>
<div class="t" style="left:616.90px;top:139.15px">0.524<i>***</i></div>
<div class="t" style="left:629.26px;top:139.15px">0.587<i>***</i></div>
<div class="t" style="left:641.62px;top:139.15px">0.846<i>***</i></div>
<div class="t" style="left:653.98px;top:139.15px">1.000<i>***</i></div>
</div>
<div class="st" style="left:490.50px;top:14.32px"></div>
<div class="st" style="left:666.34px;top:14.32px"></div>
<div class="st" style="left:490.50px;top:24.17px"></div>
<div class="st" style="left:666.34px;top:24.17px"></div>
<div class="st" style="left:490.50px;top:34.02px"></div>
<div class="st" style="left:666.34px;top:34.02px"></div>
<div class="st" style="left:490.50px;top:43.88px"></div>
<div class="st" style="left:666.34px;top:43.88px"></div>
<div class="st" style="left:490.50px;top:53.72px"></div>
<div class="st" style="left:666.34px;top:53.72px"></div>
<div class="st" style="left:490.50px;top:63.58px"></div>
<div class="st" style="left:666.34px;top:63.58px"></div>
<div class="st" style="left:490.50px;top:73.42px"></div>
<div class="st" style="left:666.34px;top:73.42px"></div>
<div class="st" style="left:490.50px;top:83.28px"></div>
<div class="st" style="left:666.34px;top:83.28px"></div>
<div class="st" style="left:490.50px;top:93.12px"></div>
<div class="st" style="left:666.34px;top:93.12px"></div>
<div class="st" style="left:490.50px;top:102.97px"></div>
<div class="st" style="left:666.34px;top:102.97px"></div>
<div class="st" style="left:490.50px;top:112.83px"></div>
<div class="st" style="left:666.34px;top:112.83px"></div>
<div class="st" style="left:490.50px;top:122.67px"></div>
<div class="st" style="left:666.34px;top:122.67px"></div>
<div class="st" style="left:490.50px;top:132.52px"></div>
<div class="st" style="left:666.34px;top:132.52px"></div>
<div class="st" style="left:490.50px;top:142.37px"></div>
<div class="st" style="left:666.34px;top:142.37px"></div>
<div class="ax" style="left:489.15px;top:5.80px;width:0.9px;height:145.80px"></div>
<div class="ax" style="left:489.15px;top:150.75px;width:181.00px;height:0.9px"></div>
<div class="tk" style="left:487.50px;top:14.28px;width:2.1px;height:0.7px"></div>
<div class="yl" style="left:456.30px;top:12.43px">IC</div>
<div class="tk" style="left:487.50px;top:24.12px;width:2.1px;height:0.7px"></div>
<div class="yl" style="left:456.30px;top:22.27px">Gen.</div>
<div class="tk" style="left:487.50px;top:33.97px;width:2.1px;height:0.7px"></div>
<div class="yl" style="left:456.30px;top:32.12px">Age</div>
<div class="tk" style="left:487.50px;top:43.82px;width:2.1px;height:0.7px"></div>
<div class="yl" style="left:456.30px;top:41.97px">Mar.</div>
<div class="tk" style="left:487.50px;top:53.67px;width:2.1px;height:0.7px"></div>
<div class="yl" style="left:456.30px;top:51.82px">Edu.</div>
<div class="tk" style="left:487.50px;top:63.52px;width:2.1px;height:0.7px"></div>
<div class="yl" style="left:456.30px;top:61.67px">Emp.</div>
<div class="tk" style="left:487.50px;top:73.38px;width:2.1px;height:0.7px"></div>
<div class="yl" style="left:456.30px;top:71.52px">SocE</div>
<div class="tk" style="left:487.50px;top:83.23px;width:2.1px;height:0.7px"></div>
<div class="yl" style="left:456.30px;top:81.38px">HHsize</div>
<div class="tk" style="left:487.50px;top:93.08px;width:2.1px;height:0.7px"></div>
<div class="yl" style="left:456.30px;top:91.22px">DE</div>
<div class="tk" style="left:487.50px;top:102.92px;width:2.1px;height:0.7px"></div>
<div class="yl" style="left:456.30px;top:101.07px">PHS</div>
<div class="tk" style="left:487.50px;top:112.78px;width:2.1px;height:0.7px"></div>
<div class="yl" style="left:456.30px;top:110.92px">MP</div>
<div class="tk" style="left:487.50px;top:122.62px;width:2.1px;height:0.7px"></div>
<div class="yl" style="left:456.30px;top:120.77px">NMP</div>
<div class="tk" style="left:487.50px;top:132.47px;width:2.1px;height:0.7px"></div>
<div class="yl" style="left:456.30px;top:130.62px">Ethn.</div>
<div class="tk" style="left:487.50px;top:142.32px;width:2.1px;height:0.7px"></div>
<div class="yl" style="left:456.30px;top:140.47px">Prov.</div>
<div class="tk" style="left:499.13px;top:151.40px;width:0.7px;height:2.3px"></div>
<div class="xl" style="left:489.48px;top:153.60px">IC</div>
<div class="tk" style="left:511.49px;top:151.40px;width:0.7px;height:2.3px"></div>
<div class="xl" style="left:501.84px;top:153.60px">Gen.</div>
<div class="tk" style="left:523.85px;top:151.40px;width:0.7px;height:2.3px"></div>
<div class="xl" style="left:514.20px;top:153.60px">Age</div>
<div class="tk" style="left:536.21px;top:151.40px;width:0.7px;height:2.3px"></div>
<div class="xl" style="left:526.56px;top:153.60px">Mar.</div>
<div class="tk" style="left:548.57px;top:151.40px;width:0.7px;height:2.3px"></div>
<div class="xl" style="left:538.92px;top:153.60px">Edu.</div>
<div class="tk" style="left:560.93px;top:151.40px;width:0.7px;height:2.3px"></div>
<div class="xl" style="left:551.28px;top:153.60px">Emp.</div>
<div class="tk" style="left:573.29px;top:151.40px;width:0.7px;height:2.3px"></div>
<div class="xl" style="left:563.64px;top:153.60px">SocE</div>
<div class="tk" style="left:585.65px;top:151.40px;width:0.7px;height:2.3px"></div>
<div class="xl" style="left:576.00px;top:153.60px">HHsize</div>
<div class="tk" style="left:598.01px;top:151.40px;width:0.7px;height:2.3px"></div>
<div class="xl" style="left:588.36px;top:153.60px">DE</div>
<div class="tk" style="left:610.37px;top:151.40px;width:0.7px;height:2.3px"></div>
<div class="xl" style="left:600.72px;top:153.60px">PHS</div>
<div class="tk" style="left:622.73px;top:151.40px;width:0.7px;height:2.3px"></div>
<div class="xl" style="left:613.08px;top:153.60px">MP</div>
<div class="tk" style="left:635.09px;top:151.40px;width:0.7px;height:2.3px"></div>
<div class="xl" style="left:625.44px;top:153.60px">NMP</div>
<div class="tk" style="left:647.45px;top:151.40px;width:0.7px;height:2.3px"></div>
<div class="xl" style="left:637.80px;top:153.60px">Ethn.</div>
<div class="tk" style="left:659.81px;top:151.40px;width:0.7px;height:2.3px"></div>
<div class="xl" style="left:650.16px;top:153.60px">Prov.</div>
<div class="bx" style="left:455.40px;top:0.00px;width:229.60px;height:167.00px"></div>
<div class="cap" style="left:507.65px;top:168.79px;font-size:8.80px;line-height:10.12px;transform:scaleX(1.0390)">(c)Information and communication</div>
<div class="c" style="left:38.00px;top:220.70px;background:#b75f83"></div>
<div class="c" style="left:50.36px;top:220.70px;background:#8f9bc5"></div>
<div class="c" style="left:62.72px;top:220.70px;background:#8f9bc5"></div>
<div class="c" style="left:75.08px;top:220.70px;background:#a3acce"></div>
<div class="c" style="left:87.44px;top:220.70px;background:#b0b7d4"></div>
<div class="c" style="left:99.80px;top:220.70px;background:#b0b7d4"></div>
<div class="c" style="left:112.16px;top:220.70px;background:#c6cade"></div>
<div class="c" style="left:124.52px;top:220.70px;background:#a3acce"></div>
<div class="c" style="left:136.88px;top:220.70px;background:#778abd"></div>
<div class="c" style="left:149.24px;top:220.70px;background:#f1f3f3"></div>
<div class="c" style="left:161.60px;top:220.70px;background:#f1f3f3"></div>
<div class="c" style="left:173.96px;top:220.70px;background:#e6d8dc"></div>
<div class="c" style="left:186.32px;top:220.70px;background:#f1f3f3"></div>
<div class="c" style="left:198.68px;top:220.70px;background:#f1f3f3"></div>
<div class="c" style="left:38.00px;top:230.55px;background:#8f9bc5"></div>
<div class="c" style="left:50.36px;top:230.55px;background:#b75f83"></div>
<div class="c" style="left:62.72px;top:230.55px;background:#8f9bc5"></div>
<div class="c" style="left:75.08px;top:230.55px;background:#8f9bc5"></div>
<div class="c" style="left:87.44px;top:230.55px;background:#778abd"></div>
<div class="c" style="left:99.80px;top:230.55px;background:#5182c5"></div>
<div class="c" style="left:112.16px;top:230.55px;background:#a3acce"></div>
<div class="c" style="left:124.52px;top:230.55px;background:#b0b7d4"></div>
<div class="c" style="left:136.88px;top:230.55px;background:#8f9bc5"></div>
<div class="c" style="left:149.24px;top:230.55px;background:#8f9bc5"></div>
<div class="c" style="left:161.60px;top:230.55px;background:#8f9bc5"></div>
<div class="c" style="left:173.96px;top:230.55px;background:#778abd"></div>
<div class="c" style="left:186.32px;top:230.55px;background:#8f9bc5"></div>
<div class="c" style="left:198.68px;top:230.55px;background:#8f9bc5"></div>
<div class="c" style="left:38.00px;top:240.40px;background:#8f9bc5"></div>
<div class="c" style="left:50.36px;top:240.40px;background:#8f9bc5"></div>
<div class="c" style="left:62.72px;top:240.40px;background:#b75f83"></div>
<div class="c" style="left:75.08px;top:240.40px;background:#5182c5"></div>
<div class="c" style="left:87.44px;top:240.40px;background:#5182c5"></div>
<div class="c" style="left:99.80px;top:240.40px;background:#778abd"></div>
<div class="c" style="left:112.16px;top:240.40px;background:#778abd"></div>
<div class="c" style="left:124.52px;top:240.40px;background:#778abd"></div>
<div class="c" style="left:136.88px;top:240.40px;background:#b0b7d4"></div>
<div class="c" style="left:149.24px;top:240.40px;background:#778abd"></div>
<div class="c" style="left:161.60px;top:240.40px;background:#8f9bc5"></div>
<div class="c" style="left:173.96px;top:240.40px;background:#8f9bc5"></div>
<div class="c" style="left:186.32px;top:240.40px;background:#778abd"></div>
<div class="c" style="left:198.68px;top:240.40px;background:#778abd"></div>
<div class="c" style="left:38.00px;top:250.25px;background:#a3acce"></div>
<div class="c" style="left:50.36px;top:250.25px;background:#8f9bc5"></div>
<div class="c" style="left:62.72px;top:250.25px;background:#5182c5"></div>
<div class="c" style="left:75.08px;top:250.25px;background:#b75f83"></div>
<div class="c" style="left:87.44px;top:250.25px;background:#dfe1e9"></div>
<div class="c" style="left:99.80px;top:250.25px;background:#a3acce"></div>
<div class="c" style="left:112.16px;top:250.25px;background:#a3acce"></div>
<div class="c" style="left:124.52px;top:250.25px;background:#8392c1"></div>
<div class="c" style="left:136.88px;top:250.25px;background:#a3acce"></div>
<div class="c" style="left:149.24px;top:250.25px;background:#a3acce"></div>
<div class="c" style="left:161.60px;top:250.25px;background:#8f9bc5"></div>
<div class="c" style="left:173.96px;top:250.25px;background:#a3acce"></div>
<div class="c" style="left:186.32px;top:250.25px;background:#a3acce"></div>
<div class="c" style="left:198.68px;top:250.25px;background:#a3acce"></div>
<div class="c" style="left:38.00px;top:260.10px;background:#b0b7d4"></div>
<div class="c" style="left:50.36px;top:260.10px;background:#778abd"></div>
<div class="c" style="left:62.72px;top:260.10px;background:#5182c5"></div>
<div class="c" style="left:75.08px;top:260.10px;background:#dfe1e9"></div>
<div class="c" style="left:87.44px;top:260.10px;background:#b75f83"></div>
<div class="c" style="left:99.80px;top:260.10px;background:#e8eaee"></div>
<div class="c" style="left:112.16px;top:260.10px;background:#b0b7d4"></div>
<div class="c" style="left:124.52px;top:260.10px;background:#8392c1"></div>
<div class="c" style="left:136.88px;top:260.10px;background:#8f9bc5"></div>
<div class="c" style="left:149.24px;top:260.10px;background:#b0b7d4"></div>
<div class="c" style="left:161.60px;top:260.10px;background:#dfe1e9"></div>
<div class="c" style="left:173.96px;top:260.10px;background:#cfd2e2"></div>
<div class="c" style="left:186.32px;top:260.10px;background:#d7dae6"></div>
<div class="c" style="left:198.68px;top:260.10px;background:#d7dae6"></div>
<div class="c" style="left:38.00px;top:269.95px;background:#b0b7d4"></div>
<div class="c" style="left:50.36px;top:269.95px;background:#5182c5"></div>
<div class="c" style="left:62.72px;top:269.95px;background:#778abd"></div>
<div class="c" style="left:75.08px;top:269.95px;background:#a3acce"></div>
<div class="c" style="left:87.44px;top:269.95px;background:#e8eaee"></div>
<div class="c" style="left:99.80px;top:269.95px;background:#b75f83"></div>
<div class="c" style="left:112.16px;top:269.95px;background:#bcc2d9"></div>
<div class="c" style="left:124.52px;top:269.95px;background:#778abd"></div>
<div class="c" style="left:136.88px;top:269.95px;background:#99a4ca"></div>
<div class="c" style="left:149.24px;top:269.95px;background:#bcc2d9"></div>
<div class="c" style="left:161.60px;top:269.95px;background:#cfd2e2"></div>
<div class="c" style="left:173.96px;top:269.95px;background:#d7dae6"></div>
<div class="c" style="left:186.32px;top:269.95px;background:#d7dae6"></div>
<div class="c" style="left:198.68px;top:269.95px;background:#d7dae6"></div>
<div class="c" style="left:38.00px;top:279.80px;background:#c6cade"></div>
<div class="c" style="left:50.36px;top:279.80px;background:#a3acce"></div>
<div class="c" style="left:62.72px;top:279.80px;background:#778abd"></div>
<div class="c" style="left:75.08px;top:279.80px;background:#a3acce"></div>
<div class="c" style="left:87.44px;top:279.80px;background:#b0b7d4"></div>
<div class="c" style="left:99.80px;top:279.80px;background:#bcc2d9"></div>
<div class="c" style="left:112.16px;top:279.80px;background:#b75f83"></div>
<div class="c" style="left:124.52px;top:279.80px;background:#b0b7d4"></div>
<div class="c" style="left:136.88px;top:279.80px;background:#778abd"></div>
<div class="c" style="left:149.24px;top:279.80px;background:#dfe1e9"></div>
<div class="c" style="left:161.60px;top:279.80px;background:#cfd2e2"></div>
<div class="c" style="left:173.96px;top:279.80px;background:#cfd2e2"></div>
<div class="c" style="left:186.32px;top:279.80px;background:#dfe1e9"></div>
<div class="c" style="left:198.68px;top:279.80px;background:#c6cade"></div>
<div class="c" style="left:38.00px;top:289.65px;background:#a3acce"></div>
<div class="c" style="left:50.36px;top:289.65px;background:#b0b7d4"></div>
<div class="c" style="left:62.72px;top:289.65px;background:#778abd"></div>
<div class="c" style="left:75.08px;top:289.65px;background:#8392c1"></div>
<div class="c" style="left:87.44px;top:289.65px;background:#8392c1"></div>
<div class="c" style="left:99.80px;top:289.65px;background:#778abd"></div>
<div class="c" style="left:112.16px;top:289.65px;background:#b0b7d4"></div>
<div class="c" style="left:124.52px;top:289.65px;background:#b75f83"></div>
<div class="c" style="left:136.88px;top:289.65px;background:#8392c1"></div>
<div class="c" style="left:149.24px;top:289.65px;background:#99a4ca"></div>
<div class="c" style="left:161.60px;top:289.65px;background:#a3acce"></div>
<div class="c" style="left:173.96px;top:289.65px;background:#8f9bc5"></div>
<div class="c" style="left:186.32px;top:289.65px;background:#8f9bc5"></div>
<div class="c" style="left:198.68px;top:289.65px;background:#778abd"></div>
<div class="c" style="left:38.00px;top:299.50px;background:#778abd"></div>
<div class="c" style="left:50.36px;top:299.50px;background:#8f9bc5"></div>
<div class="c" style="left:62.72px;top:299.50px;background:#b0b7d4"></div>
<div class="c" style="left:75.08px;top:299.50px;background:#a3acce"></div>
<div class="c" style="left:87.44px;top:299.50px;background:#8f9bc5"></div>
<div class="c" style="left:99.80px;top:299.50px;background:#99a4ca"></div>
<div class="c" style="left:112.16px;top:299.50px;background:#778abd"></div>
<div class="c" style="left:124.52px;top:299.50px;background:#8392c1"></div>
<div class="c" style="left:136.88px;top:299.50px;background:#b75f83"></div>
<div class="c" style="left:149.24px;top:299.50px;background:#5182c5"></div>
<div class="c" style="left:161.60px;top:299.50px;background:#5182c5"></div>
<div class="c" style="left:173.96px;top:299.50px;background:#778abd"></div>
<div class="c" style="left:186.32px;top:299.50px;background:#5182c5"></div>
<div class="c" style="left:198.68px;top:299.50px;background:#5182c5"></div>
<div class="c" style="left:38.00px;top:309.35px;background:#f1f3f3"></div>
<div class="c" style="left:50.36px;top:309.35px;background:#8f9bc5"></div>
<div class="c" style="left:62.72px;top:309.35px;background:#778abd"></div>
<div class="c" style="left:75.08px;top:309.35px;background:#a3acce"></div>
<div class="c" style="left:87.44px;top:309.35px;background:#b0b7d4"></div>
<div class="c" style="left:99.80px;top:309.35px;background:#bcc2d9"></div>
<div class="c" style="left:112.16px;top:309.35px;background:#dfe1e9"></div>
<div class="c" style="left:124.52px;top:309.35px;background:#99a4ca"></div>
<div class="c" style="left:136.88px;top:309.35px;background:#5182c5"></div>
<div class="c" style="left:149.24px;top:309.35px;background:#b75f83"></div>
<div class="c" style="left:161.60px;top:309.35px;background:#ece5e7"></div>
<div class="c" style="left:173.96px;top:309.35px;background:#e0cdd4"></div>
<div class="c" style="left:186.32px;top:309.35px;background:#d8bcc6"></div>
<div class="c" style="left:198.68px;top:309.35px;background:#d8bcc6"></div>
<div class="c" style="left:38.00px;top:319.20px;background:#f1f3f3"></div>
<div class="c" style="left:50.36px;top:319.20px;background:#8f9bc5"></div>
<div class="c" style="left:62.72px;top:319.20px;background:#8f9bc5"></div>
<div class="c" style="left:75.08px;top:319.20px;background:#8f9bc5"></div>
<div class="c" style="left:87.44px;top:319.20px;background:#dfe1e9"></div>
<div class="c" style="left:99.80px;top:319.20px;background:#cfd2e2"></div>
<div class="c" style="left:112.16px;top:319.20px;background:#cfd2e2"></div>
<div class="c" style="left:124.52px;top:319.20px;background:#a3acce"></div>
<div class="c" style="left:136.88px;top:319.20px;background:#5182c5"></div>
<div class="c" style="left:149.24px;top:319.20px;background:#ece5e7"></div>
<div class="c" style="left:161.60px;top:319.20px;background:#b75f83"></div>
<div class="c" style="left:173.96px;top:319.20px;background:#e0cdd4"></div>
<div class="c" style="left:186.32px;top:319.20px;background:#e0cdd4"></div>
<div class="c" style="left:198.68px;top:319.20px;background:#e0cdd4"></div>
<div class="c" style="left:38.00px;top:329.05px;background:#e6d8dc"></div>
<div class="c" style="left:50.36px;top:329.05px;background:#778abd"></div>
<div class="c" style="left:62.72px;top:329.05px;background:#8f9bc5"></div>
<div class="c" style="left:75.08px;top:329.05px;background:#a3acce"></div>
<div class="c" style="left:87.44px;top:329.05px;background:#cfd2e2"></div>
<div class="c" style="left:99.80px;top:329.05px;background:#d7dae6"></div>
<div class="c" style="left:112.16px;top:329.05px;background:#cfd2e2"></div>
<div class="c" style="left:124.52px;top:329.05px;background:#8f9bc5"></div>
<div class="c" style="left:136.88px;top:329.05px;background:#778abd"></div>
<div class="c" style="left:149.24px;top:329.05px;background:#e0cdd4"></div>
<div class="c" style="left:161.60px;top:329.05px;background:#e0cdd4"></div>
<div class="c" style="left:173.96px;top:329.05px;background:#b75f83"></div>
<div class="c" style="left:186.32px;top:329.05px;background:#dcc4cd"></div>
<div class="c" style="left:198.68px;top:329.05px;background:#dcc4cd"></div>
<div class="c" style="left:38.00px;top:338.90px;background:#f1f3f3"></div>
<div class="c" style="left:50.36px;top:338.90px;background:#8f9bc5"></div>
<div class="c" style="left:62.72px;top:338.90px;background:#778abd"></div>
<div class="c" style="left:75.08px;top:338.90px;background:#a3acce"></div>
<div class="c" style="left:87.44px;top:338.90px;background:#d7dae6"></div>
<div class="c" style="left:99.80px;top:338.90px;background:#d7dae6"></div>
<div class="c" style="left:112.16px;top:338.90px;background:#dfe1e9"></div>
<div class="c" style="left:124.52px;top:338.90px;background:#8f9bc5"></div>
<div class="c" style="left:136.88px;top:338.90px;background:#5182c5"></div>
<div class="c" style="left:149.24px;top:338.90px;background:#d8bcc6"></div>
<div class="c" style="left:161.60px;top:338.90px;background:#e0cdd4"></div>
<div class="c" style="left:173.96px;top:338.90px;background:#dcc4cd"></div>
<div class="c" style="left:186.32px;top:338.90px;background:#b75f83"></div>
<div class="c" style="left:198.68px;top:338.90px;background:#c17894"></div>
<div class="c" style="left:38.00px;top:348.75px;background:#f1f3f3"></div>
<div class="c" style="left:50.36px;top:348.75px;background:#8f9bc5"></div>
<div class="c" style="left:62.72px;top:348.75px;background:#778abd"></div>
<div class="c" style="left:75.08px;top:348.75px;background:#a3acce"></div>
<div class="c" style="left:87.44px;top:348.75px;background:#d7dae6"></div>
<div class="c" style="left:99.80px;top:348.75px;background:#d7dae6"></div>
<div class="c" style="left:112.16px;top:348.75px;background:#c6cade"></div>
<div class="c" style="left:124.52px;top:348.75px;background:#778abd"></div>
<div class="c" style="left:136.88px;top:348.75px;background:#5182c5"></div>
<div class="c" style="left:149.24px;top:348.75px;background:#d8bcc6"></div>
<div class="c" style="left:161.60px;top:348.75px;background:#e0cdd4"></div>
<div class="c" style="left:173.96px;top:348.75px;background:#dcc4cd"></div>
<div class="c" style="left:186.32px;top:348.75px;background:#c17894"></div>
<div class="c" style="left:198.68px;top:348.75px;background:#b75f83"></div>
<div class="tl">
<div class="t" style="left:38.00px;top:222.10px">1.000<i>***</i></div>
<div class="t" style="left:38.00px;top:231.95px">−0.053<i>*</i></div>
<div class="t" style="left:50.36px;top:231.95px">1.000<i>***</i></div>
<div class="t" style="left:38.00px;top:241.80px">−0.045<i>*</i></div>
<div class="t" style="left:50.36px;top:241.80px">−0.001</div>
<div class="t" style="left:62.72px;top:241.80px">1.000<i>***</i></div>
<div class="t" style="left:38.00px;top:251.65px">0.000</div>
<div class="t" style="left:50.36px;top:251.65px">−0.081<i>**</i></div>
<div class="t" style="left:62.72px;top:251.65px">−0.243<i>***</i></div>
<div class="t" style="left:75.08px;top:251.65px">1.000<i>***</i></div>
<div class="t" style="left:38.00px;top:261.50px">0.078<i>**</i></div>
<div class="t" style="left:50.36px;top:261.50px">−0.129<i>***</i></div>
<div class="t" style="left:62.72px;top:261.50px">−0.262<i>***</i></div>
<div class="t" style="left:75.08px;top:261.50px">0.195<i>***</i></div>
<div class="t" style="left:87.44px;top:261.50px">1.000<i>***</i></div>
<div class="t" style="left:38.00px;top:271.35px">0.086<i>**</i></div>
<div class="t" style="left:50.36px;top:271.35px">−0.260<i>***</i></div>
<div class="t" style="left:62.72px;top:271.35px">−0.120<i>***</i></div>
<div class="t" style="left:75.08px;top:271.35px">0.085<i>***</i></div>
<div class="t" style="left:87.44px;top:271.35px">0.320<i>***</i></div>
<div class="t" style="left:99.80px;top:271.35px">1.000<i>***</i></div>
<div class="t" style="left:38.00px;top:281.20px">0.126<i>***</i></div>
<div class="t" style="left:50.36px;top:281.20px">−0.002</div>
<div class="t" style="left:62.72px;top:281.20px">−0.100<i>***</i></div>
<div class="t" style="left:75.08px;top:281.20px">−0.022</div>
<div class="t" style="left:87.44px;top:281.20px">0.085<i>***</i></div>
<div class="t" style="left:99.80px;top:281.20px">0.090<i>***</i></div>
<div class="t" style="left:112.16px;top:281.20px">1.000<i>***</i></div>
<div class="t" style="left:38.00px;top:291.05px">0.009</div>
<div class="t" style="left:50.36px;top:291.05px">0.051<i>*</i></div>
<div class="t" style="left:62.72px;top:291.05px">−0.126<i>***</i></div>
<div class="t" style="left:75.08px;top:291.05px">−0.167<i>***</i></div>
<div class="t" style="left:87.44px;top:291.05px">−0.085<i>***</i></div>
<div class="t" style="left:99.80px;top:291.05px">−0.116<i>***</i></div>
<div class="t" style="left:112.16px;top:291.05px">0.070<i>***</i></div>
<div class="t" style="left:124.52px;top:291.05px">1.000<i>***</i></div>
<div class="t" style="left:38.00px;top:300.90px">−0.113<i>***</i></div>
<div class="t" style="left:50.36px;top:300.90px">−0.027</div>
<div class="t" style="left:62.72px;top:300.90px">0.118<i>***</i></div>
<div class="t" style="left:75.08px;top:300.90px">0.003</div>
<div class="t" style="left:87.44px;top:300.90px">−0.089<i>***</i></div>
<div class="t" style="left:99.80px;top:300.90px">−0.021</div>
<div class="t" style="left:112.16px;top:300.90px">−0.108<i>***</i></div>
<div class="t" style="left:124.52px;top:300.90px">−0.118<i>***</i></div>
<div class="t" style="left:136.88px;top:300.90px">1.000<i>***</i></div>
<div class="t" style="left:38.00px;top:310.75px">0.342<i>***</i></div>
<div class="t" style="left:50.36px;top:310.75px">−0.043</div>
<div class="t" style="left:62.72px;top:310.75px">−0.109<i>***</i></div>
<div class="t" style="left:75.08px;top:310.75px">0.013</div>
<div class="t" style="left:87.44px;top:310.75px">0.081<i>***</i></div>
<div class="t" style="left:99.80px;top:310.75px">0.168<i>***</i></div>
<div class="t" style="left:112.16px;top:310.75px">0.208<i>***</i></div>
<div class="t" style="left:124.52px;top:310.75px">−0.060<i>**</i></div>
<div class="t" style="left:136.88px;top:310.75px">−0.228<i>***</i></div>
<div class="t" style="left:149.24px;top:310.75px">1.000<i>***</i></div>
<div class="t" style="left:38.00px;top:320.60px">0.350<i>***</i></div>
<div class="t" style="left:50.36px;top:320.60px">−0.048<i>*</i></div>
<div class="t" style="left:62.72px;top:320.60px">−0.086<i>***</i></div>
<div class="t" style="left:75.08px;top:320.60px">−0.030</div>
<div class="t" style="left:87.44px;top:320.60px">0.200<i>***</i></div>
<div class="t" style="left:99.80px;top:320.60px">0.200<i>***</i></div>
<div class="t" style="left:112.16px;top:320.60px">0.201<i>***</i></div>
<div class="t" style="left:124.52px;top:320.60px">0.001</div>
<div class="t" style="left:136.88px;top:320.60px">−0.223<i>***</i></div>
<div class="t" style="left:149.24px;top:320.60px">0.469<i>***</i></div>
<div class="t" style="left:161.60px;top:320.60px">1.000<i>***</i></div>
<div class="t" style="left:38.00px;top:330.45px">0.458<i>***</i></div>
<div class="t" style="left:50.36px;top:330.45px">−0.119<i>***</i></div>
<div class="t" style="left:62.72px;top:330.45px">−0.030<i>*</i></div>
<div class="t" style="left:75.08px;top:330.45px">0.012</div>
<div class="t" style="left:87.44px;top:330.45px">0.160<i>***</i></div>
<div class="t" style="left:99.80px;top:330.45px">0.260<i>***</i></div>
<div class="t" style="left:112.16px;top:330.45px">0.258<i>***</i></div>
<div class="t" style="left:124.52px;top:330.45px">−0.084<i>***</i></div>
<div class="t" style="left:136.88px;top:330.45px">−0.150<i>***</i></div>
<div class="t" style="left:149.24px;top:330.45px">0.451<i>***</i></div>
<div class="t" style="left:161.60px;top:330.45px">0.542<i>***</i></div>
<div class="t" style="left:173.96px;top:330.45px">1.000<i>***</i></div>
<div class="t" style="left:38.00px;top:340.30px">0.343<i>***</i></div>
<div class="t" style="left:50.36px;top:340.30px">−0.075<i>***</i></div>
<div class="t" style="left:62.72px;top:340.30px">−0.109<i>***</i></div>
<div class="t" style="left:75.08px;top:340.30px">0.069</div>
<div class="t" style="left:87.44px;top:340.30px">0.216<i>***</i></div>
<div class="t" style="left:99.80px;top:340.30px">0.207<i>***</i></div>
<div class="t" style="left:112.16px;top:340.30px">0.075<i>***</i></div>
<div class="t" style="left:124.52px;top:340.30px">0.005</div>
<div class="t" style="left:136.88px;top:340.30px">−0.278<i>***</i></div>
<div class="t" style="left:149.24px;top:340.30px">0.578<i>***</i></div>
<div class="t" style="left:161.60px;top:340.30px">0.513<i>***</i></div>
<div class="t" style="left:173.96px;top:340.30px">0.506<i>***</i></div>
<div class="t" style="left:186.32px;top:340.30px">1.000<i>***</i></div>
<div class="t" style="left:38.00px;top:350.15px">0.351<i>***</i></div>
<div class="t" style="left:50.36px;top:350.15px">−0.045</div>
<div class="t" style="left:62.72px;top:350.15px">−0.124<i>***</i></div>
<div class="t" style="left:75.08px;top:350.15px">0.012</div>
<div class="t" style="left:87.44px;top:350.15px">0.332<i>***</i></div>
<div class="t" style="left:99.80px;top:350.15px">0.349<i>***</i></div>
<div class="t" style="left:112.16px;top:350.15px">0.165<i>***</i></div>
<div class="t" style="left:124.52px;top:350.15px">−0.167<i>**</i></div>
<div class="t" style="left:136.88px;top:350.15px">−0.217<i>***</i></div>
<div class="t" style="left:149.24px;top:350.15px">0.588<i>***</i></div>
<div class="t" style="left:161.60px;top:350.15px">0.524<i>***</i></div>
<div class="t" style="left:173.96px;top:350.15px">0.587<i>***</i></div>
<div class="t" style="left:186.32px;top:350.15px">0.846<i>***</i></div>
<div class="t" style="left:198.68px;top:350.15px">1.000<i>***</i></div>
</div>
<div class="st" style="left:35.20px;top:225.32px"></div>
<div class="st" style="left:211.04px;top:225.32px"></div>
<div class="st" style="left:35.20px;top:235.17px"></div>
<div class="st" style="left:211.04px;top:235.17px"></div>
<div class="st" style="left:35.20px;top:245.02px"></div>
<div class="st" style="left:211.04px;top:245.02px"></div>
<div class="st" style="left:35.20px;top:254.88px"></div>
<div class="st" style="left:211.04px;top:254.88px"></div>
<div class="st" style="left:35.20px;top:264.72px"></div>
<div class="st" style="left:211.04px;top:264.72px"></div>
<div class="st" style="left:35.20px;top:274.57px"></div>
<div class="st" style="left:211.04px;top:274.57px"></div>
<div class="st" style="left:35.20px;top:284.42px"></div>
<div class="st" style="left:211.04px;top:284.42px"></div>
<div class="st" style="left:35.20px;top:294.27px"></div>
<div class="st" style="left:211.04px;top:294.27px"></div>
<div class="st" style="left:35.20px;top:304.12px"></div>
<div class="st" style="left:211.04px;top:304.12px"></div>
<div class="st" style="left:35.20px;top:313.97px"></div>
<div class="st" style="left:211.04px;top:313.97px"></div>
<div class="st" style="left:35.20px;top:323.82px"></div>
<div class="st" style="left:211.04px;top:323.82px"></div>
<div class="st" style="left:35.20px;top:333.67px"></div>
<div class="st" style="left:211.04px;top:333.67px"></div>
<div class="st" style="left:35.20px;top:343.52px"></div>
<div class="st" style="left:211.04px;top:343.52px"></div>
<div class="st" style="left:35.20px;top:353.38px"></div>
<div class="st" style="left:211.04px;top:353.38px"></div>
<div class="ax" style="left:33.85px;top:216.80px;width:0.9px;height:145.80px"></div>
<div class="ax" style="left:33.85px;top:361.75px;width:181.00px;height:0.9px"></div>
<div class="tk" style="left:32.20px;top:225.28px;width:2.1px;height:0.7px"></div>
<div class="yl" style="left:1.00px;top:223.43px">Res.</div>
<div class="tk" style="left:32.20px;top:235.12px;width:2.1px;height:0.7px"></div>
<div class="yl" style="left:1.00px;top:233.28px">Gen.</div>
<div class="tk" style="left:32.20px;top:244.97px;width:2.1px;height:0.7px"></div>
<div class="yl" style="left:1.00px;top:243.12px">Age</div>
<div class="tk" style="left:32.20px;top:254.83px;width:2.1px;height:0.7px"></div>
<div class="yl" style="left:1.00px;top:252.98px">Mar.</div>
<div class="tk" style="left:32.20px;top:264.67px;width:2.1px;height:0.7px"></div>
<div class="yl" style="left:1.00px;top:262.82px">Edu.</div>
<div class="tk" style="left:32.20px;top:274.52px;width:2.1px;height:0.7px"></div>
<div class="yl" style="left:1.00px;top:272.68px">Emp.</div>
<div class="tk" style="left:32.20px;top:284.37px;width:2.1px;height:0.7px"></div>
<div class="yl" style="left:1.00px;top:282.52px">SocE</div>
<div class="tk" style="left:32.20px;top:294.22px;width:2.1px;height:0.7px"></div>
<div class="yl" style="left:1.00px;top:292.38px">HHsize</div>
<div class="tk" style="left:32.20px;top:304.07px;width:2.1px;height:0.7px"></div>
<div class="yl" style="left:1.00px;top:302.23px">DE</div>
<div class="tk" style="left:32.20px;top:313.92px;width:2.1px;height:0.7px"></div>
<div class="yl" style="left:1.00px;top:312.07px">PHS</div>
<div class="tk" style="left:32.20px;top:323.77px;width:2.1px;height:0.7px"></div>
<div class="yl" style="left:1.00px;top:321.93px">MP</div>
<div class="tk" style="left:32.20px;top:333.62px;width:2.1px;height:0.7px"></div>
<div class="yl" style="left:1.00px;top:331.77px">NMP</div>
<div class="tk" style="left:32.20px;top:343.47px;width:2.1px;height:0.7px"></div>
<div class="yl" style="left:1.00px;top:341.62px">Ethn.</div>
<div class="tk" style="left:32.20px;top:353.32px;width:2.1px;height:0.7px"></div>
<div class="yl" style="left:1.00px;top:351.48px">Prov.</div>
<div class="tk" style="left:43.83px;top:362.40px;width:0.7px;height:2.3px"></div>
<div class="xl" style="left:34.18px;top:364.60px">Res.</div>
<div class="tk" style="left:56.19px;top:362.40px;width:0.7px;height:2.3px"></div>
<div class="xl" style="left:46.54px;top:364.60px">Gen.</div>
<div class="tk" style="left:68.55px;top:362.40px;width:0.7px;height:2.3px"></div>
<div class="xl" style="left:58.90px;top:364.60px">Age</div>
<div class="tk" style="left:80.91px;top:362.40px;width:0.7px;height:2.3px"></div>
<div class="xl" style="left:71.26px;top:364.60px">Mar.</div>
<div class="tk" style="left:93.27px;top:362.40px;width:0.7px;height:2.3px"></div>
<div class="xl" style="left:83.62px;top:364.60px">Edu.</div>
<div class="tk" style="left:105.63px;top:362.40px;width:0.7px;height:2.3px"></div>
<div class="xl" style="left:95.98px;top:364.60px">Emp.</div>
<div class="tk" style="left:117.99px;top:362.40px;width:0.7px;height:2.3px"></div>
<div class="xl" style="left:108.34px;top:364.60px">SocE</div>
<div class="tk" style="left:130.35px;top:362.40px;width:0.7px;height:2.3px"></div>
<div class="xl" style="left:120.70px;top:364.60px">HHsize</div>
<div class="tk" style="left:142.71px;top:362.40px;width:0.7px;height:2.3px"></div>
<div class="xl" style="left:133.06px;top:364.60px">DE</div>
<div class="tk" style="left:155.07px;top:362.40px;width:0.7px;height:2.3px"></div>
<div class="xl" style="left:145.42px;top:364.60px">PHS</div>
<div class="tk" style="left:167.43px;top:362.40px;width:0.7px;height:2.3px"></div>
<div class="xl" style="left:157.78px;top:364.60px">MP</div>
<div class="tk" style="left:179.79px;top:362.40px;width:0.7px;height:2.3px"></div>
<div class="xl" style="left:170.14px;top:364.60px">NMP</div>
<div class="tk" style="left:192.15px;top:362.40px;width:0.7px;height:2.3px"></div>
<div class="xl" style="left:182.50px;top:364.60px">Ethn.</div>
<div class="tk" style="left:204.51px;top:362.40px;width:0.7px;height:2.3px"></div>
<div class="xl" style="left:194.86px;top:364.60px">Prov.</div>
<div class="bx" style="left:0.00px;top:211.00px;width:228.80px;height:166.80px"></div>
<div class="cap" style="left:93.49px;top:378.39px;font-size:8.80px;line-height:10.12px;transform:scaleX(0.9680)">(d)Resources</div>
<div class="c" style="left:266.20px;top:220.70px;background:#b75f83"></div>
<div class="c" style="left:278.56px;top:220.70px;background:#8f9bc5"></div>
<div class="c" style="left:290.92px;top:220.70px;background:#8f9bc5"></div>
<div class="c" style="left:303.28px;top:220.70px;background:#8f9bc5"></div>
<div class="c" style="left:315.64px;top:220.70px;background:#b0b7d4"></div>
<div class="c" style="left:328.00px;top:220.70px;background:#b0b7d4"></div>
<div class="c" style="left:340.36px;top:220.70px;background:#c6cade"></div>
<div class="c" style="left:352.72px;top:220.70px;background:#a3acce"></div>
<div class="c" style="left:365.08px;top:220.70px;background:#778abd"></div>
<div class="c" style="left:377.44px;top:220.70px;background:#dfe1e9"></div>
<div class="c" style="left:389.80px;top:220.70px;background:#f1f3f3"></div>
<div class="c" style="left:402.16px;top:220.70px;background:#f1f3f3"></div>
<div class="c" style="left:414.52px;top:220.70px;background:#f1f3f3"></div>
<div class="c" style="left:426.88px;top:220.70px;background:#d7dae6"></div>
<div class="c" style="left:266.20px;top:230.55px;background:#8f9bc5"></div>
<div class="c" style="left:278.56px;top:230.55px;background:#b75f83"></div>
<div class="c" style="left:290.92px;top:230.55px;background:#8f9bc5"></div>
<div class="c" style="left:303.28px;top:230.55px;background:#8f9bc5"></div>
<div class="c" style="left:315.64px;top:230.55px;background:#778abd"></div>
<div class="c" style="left:328.00px;top:230.55px;background:#5182c5"></div>
<div class="c" style="left:340.36px;top:230.55px;background:#a3acce"></div>
<div class="c" style="left:352.72px;top:230.55px;background:#b0b7d4"></div>
<div class="c" style="left:365.08px;top:230.55px;background:#8f9bc5"></div>
<div class="c" style="left:377.44px;top:230.55px;background:#8f9bc5"></div>
<div class="c" style="left:389.80px;top:230.55px;background:#8f9bc5"></div>
<div class="c" style="left:402.16px;top:230.55px;background:#778abd"></div>
<div class="c" style="left:414.52px;top:230.55px;background:#8f9bc5"></div>
<div class="c" style="left:426.88px;top:230.55px;background:#8f9bc5"></div>
<div class="c" style="left:266.20px;top:240.40px;background:#8f9bc5"></div>
<div class="c" style="left:278.56px;top:240.40px;background:#8f9bc5"></div>
<div class="c" style="left:290.92px;top:240.40px;background:#b75f83"></div>
<div class="c" style="left:303.28px;top:240.40px;background:#5182c5"></div>
<div class="c" style="left:315.64px;top:240.40px;background:#5182c5"></div>
<div class="c" style="left:328.00px;top:240.40px;background:#778abd"></div>
<div class="c" style="left:340.36px;top:240.40px;background:#778abd"></div>
<div class="c" style="left:352.72px;top:240.40px;background:#778abd"></div>
<div class="c" style="left:365.08px;top:240.40px;background:#b0b7d4"></div>
<div class="c" style="left:377.44px;top:240.40px;background:#778abd"></div>
<div class="c" style="left:389.80px;top:240.40px;background:#8f9bc5"></div>
<div class="c" style="left:402.16px;top:240.40px;background:#8f9bc5"></div>
<div class="c" style="left:414.52px;top:240.40px;background:#778abd"></div>
<div class="c" style="left:426.88px;top:240.40px;background:#778abd"></div>
<div class="c" style="left:266.20px;top:250.25px;background:#8f9bc5"></div>
<div class="c" style="left:278.56px;top:250.25px;background:#8f9bc5"></div>
<div class="c" style="left:290.92px;top:250.25px;background:#5182c5"></div>
<div class="c" style="left:303.28px;top:250.25px;background:#b75f83"></div>
<div class="c" style="left:315.64px;top:250.25px;background:#dfe1e9"></div>
<div class="c" style="left:328.00px;top:250.25px;background:#a3acce"></div>
<div class="c" style="left:340.36px;top:250.25px;background:#a3acce"></div>
<div class="c" style="left:352.72px;top:250.25px;background:#8392c1"></div>
<div class="c" style="left:365.08px;top:250.25px;background:#a3acce"></div>
<div class="c" style="left:377.44px;top:250.25px;background:#a3acce"></div>
<div class="c" style="left:389.80px;top:250.25px;background:#8f9bc5"></div>
<div class="c" style="left:402.16px;top:250.25px;background:#a3acce"></div>
<div class="c" style="left:414.52px;top:250.25px;background:#a3acce"></div>
<div class="c" style="left:426.88px;top:250.25px;background:#a3acce"></div>
<div class="c" style="left:266.20px;top:260.10px;background:#b0b7d4"></div>
<div class="c" style="left:278.56px;top:260.10px;background:#778abd"></div>
<div class="c" style="left:290.92px;top:260.10px;background:#5182c5"></div>
<div class="c" style="left:303.28px;top:260.10px;background:#dfe1e9"></div>
<div class="c" style="left:315.64px;top:260.10px;background:#b75f83"></div>
<div class="c" style="left:328.00px;top:260.10px;background:#e8eaee"></div>
<div class="c" style="left:340.36px;top:260.10px;background:#b0b7d4"></div>
<div class="c" style="left:352.72px;top:260.10px;background:#8392c1"></div>
<div class="c" style="left:365.08px;top:260.10px;background:#8f9bc5"></div>
<div class="c" style="left:377.44px;top:260.10px;background:#b0b7d4"></div>
<div class="c" style="left:389.80px;top:260.10px;background:#dfe1e9"></div>
<div class="c" style="left:402.16px;top:260.10px;background:#cfd2e2"></div>
<div class="c" style="left:414.52px;top:260.10px;background:#d7dae6"></div>
<div class="c" style="left:426.88px;top:260.10px;background:#d7dae6"></div>
<div class="c" style="left:266.20px;top:269.95px;background:#b0b7d4"></div>
<div class="c" style="left:278.56px;top:269.95px;background:#5182c5"></div>
<div class="c" style="left:290.92px;top:269.95px;background:#778abd"></div>
<div class="c" style="left:303.28px;top:269.95px;background:#a3acce"></div>
<div class="c" style="left:315.64px;top:269.95px;background:#e8eaee"></div>
<div class="c" style="left:328.00px;top:269.95px;background:#b75f83"></div>
<div class="c" style="left:340.36px;top:269.95px;background:#bcc2d9"></div>
<div class="c" style="left:352.72px;top:269.95px;background:#778abd"></div>
<div class="c" style="left:365.08px;top:269.95px;background:#99a4ca"></div>
<div class="c" style="left:377.44px;top:269.95px;background:#bcc2d9"></div>
<div class="c" style="left:389.80px;top:269.95px;background:#cfd2e2"></div>
<div class="c" style="left:402.16px;top:269.95px;background:#d7dae6"></div>
<div class="c" style="left:414.52px;top:269.95px;background:#d7dae6"></div>
<div class="c" style="left:426.88px;top:269.95px;background:#d7dae6"></div>
<div class="c" style="left:266.20px;top:279.80px;background:#c6cade"></div>
<div class="c" style="left:278.56px;top:279.80px;background:#a3acce"></div>
<div class="c" style="left:290.92px;top:279.80px;background:#778abd"></div>
<div class="c" style="left:303.28px;top:279.80px;background:#a3acce"></div>
<div class="c" style="left:315.64px;top:279.80px;background:#b0b7d4"></div>
<div class="c" style="left:328.00px;top:279.80px;background:#bcc2d9"></div>
<div class="c" style="left:340.36px;top:279.80px;background:#b75f83"></div>
<div class="c" style="left:352.72px;top:279.80px;background:#b0b7d4"></div>
<div class="c" style="left:365.08px;top:279.80px;background:#778abd"></div>
<div class="c" style="left:377.44px;top:279.80px;background:#dfe1e9"></div>
<div class="c" style="left:389.80px;top:279.80px;background:#cfd2e2"></div>
<div class="c" style="left:402.16px;top:279.80px;background:#cfd2e2"></div>
<div class="c" style="left:414.52px;top:279.80px;background:#dfe1e9"></div>
<div class="c" style="left:426.88px;top:279.80px;background:#c6cade"></div>
<div class="c" style="left:266.20px;top:289.65px;background:#a3acce"></div>
<div class="c" style="left:278.56px;top:289.65px;background:#b0b7d4"></div>
<div class="c" style="left:290.92px;top:289.65px;background:#778abd"></div>
<div class="c" style="left:303.28px;top:289.65px;background:#8392c1"></div>
<div class="c" style="left:315.64px;top:289.65px;background:#8392c1"></div>
<div class="c" style="left:328.00px;top:289.65px;background:#778abd"></div>
<div class="c" style="left:340.36px;top:289.65px;background:#b0b7d4"></div>
<div class="c" style="left:352.72px;top:289.65px;background:#b75f83"></div>
<div class="c" style="left:365.08px;top:289.65px;background:#8392c1"></div>
<div class="c" style="left:377.44px;top:289.65px;background:#99a4ca"></div>
<div class="c" style="left:389.80px;top:289.65px;background:#a3acce"></div>
<div class="c" style="left:402.16px;top:289.65px;background:#8f9bc5"></div>
<div class="c" style="left:414.52px;top:289.65px;background:#8f9bc5"></div>
<div class="c" style="left:426.88px;top:289.65px;background:#778abd"></div>
<div class="c" style="left:266.20px;top:299.50px;background:#778abd"></div>
<div class="c" style="left:278.56px;top:299.50px;background:#8f9bc5"></div>
<div class="c" style="left:290.92px;top:299.50px;background:#b0b7d4"></div>
<div class="c" style="left:303.28px;top:299.50px;background:#a3acce"></div>
<div class="c" style="left:315.64px;top:299.50px;background:#8f9bc5"></div>
<div class="c" style="left:328.00px;top:299.50px;background:#99a4ca"></div>
<div class="c" style="left:340.36px;top:299.50px;background:#778abd"></div>
<div class="c" style="left:352.72px;top:299.50px;background:#8392c1"></div>
<div class="c" style="left:365.08px;top:299.50px;background:#b75f83"></div>
<div class="c" style="left:377.44px;top:299.50px;background:#5182c5"></div>
<div class="c" style="left:389.80px;top:299.50px;background:#5182c5"></div>
<div class="c" style="left:402.16px;top:299.50px;background:#778abd"></div>
<div class="c" style="left:414.52px;top:299.50px;background:#5182c5"></div>
<div class="c" style="left:426.88px;top:299.50px;background:#5182c5"></div>
<div class="c" style="left:266.20px;top:309.35px;background:#dfe1e9"></div>
<div class="c" style="left:278.56px;top:309.35px;background:#8f9bc5"></div>
<div class="c" style="left:290.92px;top:309.35px;background:#778abd"></div>
<div class="c" style="left:303.28px;top:309.35px;background:#a3acce"></div>
<div class="c" style="left:315.64px;top:309.35px;background:#b0b7d4"></div>
<div class="c" style="left:328.00px;top:309.35px;background:#bcc2d9"></div>
<div class="c" style="left:340.36px;top:309.35px;background:#dfe1e9"></div>
<div class="c" style="left:352.72px;top:309.35px;background:#99a4ca"></div>
<div class="c" style="left:365.08px;top:309.35px;background:#5182c5"></div>
<div class="c" style="left:377.44px;top:309.35px;background:#b75f83"></div>
<div class="c" style="left:389.80px;top:309.35px;background:#ece5e7"></div>
<div class="c" style="left:402.16px;top:309.35px;background:#e0cdd4"></div>
<div class="c" style="left:414.52px;top:309.35px;background:#d8bcc6"></div>
<div class="c" style="left:426.88px;top:309.35px;background:#d8bcc6"></div>
<div class="c" style="left:266.20px;top:319.20px;background:#f1f3f3"></div>
<div class="c" style="left:278.56px;top:319.20px;background:#8f9bc5"></div>
<div class="c" style="left:290.92px;top:319.20px;background:#8f9bc5"></div>
<div class="c" style="left:303.28px;top:319.20px;background:#8f9bc5"></div>
<div class="c" style="left:315.64px;top:319.20px;background:#dfe1e9"></div>
<div class="c" style="left:328.00px;top:319.20px;background:#cfd2e2"></div>
<div class="c" style="left:340.36px;top:319.20px;background:#cfd2e2"></div>
<div class="c" style="left:352.72px;top:319.20px;background:#a3acce"></div>
<div class="c" style="left:365.08px;top:319.20px;background:#5182c5"></div>
<div class="c" style="left:377.44px;top:319.20px;background:#ece5e7"></div>
<div class="c" style="left:389.80px;top:319.20px;background:#b75f83"></div>
<div class="c" style="left:402.16px;top:319.20px;background:#e0cdd4"></div>
<div class="c" style="left:414.52px;top:319.20px;background:#e0cdd4"></div>
<div class="c" style="left:426.88px;top:319.20px;background:#e0cdd4"></div>
<div class="c" style="left:266.20px;top:329.05px;background:#f1f3f3"></div>
<div class="c" style="left:278.56px;top:329.05px;background:#778abd"></div>
<div class="c" style="left:290.92px;top:329.05px;background:#8f9bc5"></div>
<div class="c" style="left:303.28px;top:329.05px;background:#a3acce"></div>
<div class="c" style="left:315.64px;top:329.05px;background:#cfd2e2"></div>
<div class="c" style="left:328.00px;top:329.05px;background:#d7dae6"></div>
<div class="c" style="left:340.36px;top:329.05px;background:#cfd2e2"></div>
<div class="c" style="left:352.72px;top:329.05px;background:#8f9bc5"></div>
<div class="c" style="left:365.08px;top:329.05px;background:#778abd"></div>
<div class="c" style="left:377.44px;top:329.05px;background:#e0cdd4"></div>
<div class="c" style="left:389.80px;top:329.05px;background:#e0cdd4"></div>
<div class="c" style="left:402.16px;top:329.05px;background:#b75f83"></div>
<div class="c" style="left:414.52px;top:329.05px;background:#dcc4cd"></div>
<div class="c" style="left:426.88px;top:329.05px;background:#dcc4cd"></div>
<div class="c" style="left:266.20px;top:338.90px;background:#f1f3f3"></div>
<div class="c" style="left:278.56px;top:338.90px;background:#8f9bc5"></div>
<div class="c" style="left:290.92px;top:338.90px;background:#778abd"></div>
<div class="c" style="left:303.28px;top:338.90px;background:#a3acce"></div>
<div class="c" style="left:315.64px;top:338.90px;background:#d7dae6"></div>
<div class="c" style="left:328.00px;top:338.90px;background:#d7dae6"></div>
<div class="c" style="left:340.36px;top:338.90px;background:#dfe1e9"></div>
<div class="c" style="left:352.72px;top:338.90px;background:#8f9bc5"></div>
<div class="c" style="left:365.08px;top:338.90px;background:#5182c5"></div>
<div class="c" style="left:377.44px;top:338.90px;background:#d8bcc6"></div>
<div class="c" style="left:389.80px;top:338.90px;background:#e0cdd4"></div>
<div class="c" style="left:402.16px;top:338.90px;background:#dcc4cd"></div>
<div class="c" style="left:414.52px;top:338.90px;background:#b75f83"></div>
<div class="c" style="left:426.88px;top:338.90px;background:#c17894"></div>
<div class="c" style="left:266.20px;top:348.75px;background:#d7dae6"></div>
<div class="c" style="left:278.56px;top:348.75px;background:#8f9bc5"></div>
<div class="c" style="left:290.92px;top:348.75px;background:#778abd"></div>
<div class="c" style="left:303.28px;top:348.75px;background:#a3acce"></div>
<div class="c" style="left:315.64px;top:348.75px;background:#d7dae6"></div>
<div class="c" style="left:328.00px;top:348.75px;background:#d7dae6"></div>
<div class="c" style="left:340.36px;top:348.75px;background:#c6cade"></div>
<div class="c" style="left:352.72px;top:348.75px;background:#778abd"></div>
<div class="c" style="left:365.08px;top:348.75px;background:#5182c5"></div>
<div class="c" style="left:377.44px;top:348.75px;background:#d8bcc6"></div>
<div class="c" style="left:389.80px;top:348.75px;background:#e0cdd4"></div>
<div class="c" style="left:402.16px;top:348.75px;background:#dcc4cd"></div>
<div class="c" style="left:414.52px;top:348.75px;background:#c17894"></div>
<div class="c" style="left:426.88px;top:348.75px;background:#b75f83"></div>
<div class="tl">
<div class="t" style="left:266.20px;top:222.10px">1.000<i>***</i></div>
<div class="t" style="left:266.20px;top:231.95px">−0.053<i>*</i></div>
<div class="t" style="left:278.56px;top:231.95px">1.000<i>***</i></div>
<div class="t" style="left:266.20px;top:241.80px">−0.045<i>*</i></div>
<div class="t" style="left:278.56px;top:241.80px">−0.001</div>
<div class="t" style="left:290.92px;top:241.80px">1.000<i>***</i></div>
<div class="t" style="left:266.20px;top:251.65px">−0.060<i>*</i></div>
<div class="t" style="left:278.56px;top:251.65px">−0.081<i>**</i></div>
<div class="t" style="left:290.92px;top:251.65px">−0.243<i>***</i></div>
<div class="t" style="left:303.28px;top:251.65px">1.000<i>***</i></div>
<div class="t" style="left:266.20px;top:261.50px">0.078<i>**</i></div>
<div class="t" style="left:278.56px;top:261.50px">−0.129<i>***</i></div>
<div class="t" style="left:290.92px;top:261.50px">−0.262<i>***</i></div>
<div class="t" style="left:303.28px;top:261.50px">0.195<i>***</i></div>
<div class="t" style="left:315.64px;top:261.50px">1.000<i>***</i></div>
<div class="t" style="left:266.20px;top:271.35px">0.086<i>**</i></div>
<div class="t" style="left:278.56px;top:271.35px">−0.260<i>***</i></div>
<div class="t" style="left:290.92px;top:271.35px">−0.120<i>***</i></div>
<div class="t" style="left:303.28px;top:271.35px">0.085<i>***</i></div>
<div class="t" style="left:315.64px;top:271.35px">0.320<i>***</i></div>
<div class="t" style="left:328.00px;top:271.35px">1.000<i>***</i></div>
<div class="t" style="left:266.20px;top:281.20px">0.126<i>***</i></div>
<div class="t" style="left:278.56px;top:281.20px">−0.002</div>
<div class="t" style="left:290.92px;top:281.20px">−0.100<i>***</i></div>
<div class="t" style="left:303.28px;top:281.20px">−0.022</div>
<div class="t" style="left:315.64px;top:281.20px">0.085<i>***</i></div>
<div class="t" style="left:328.00px;top:281.20px">0.090<i>***</i></div>
<div class="t" style="left:340.36px;top:281.20px">1.000<i>***</i></div>
<div class="t" style="left:266.20px;top:291.05px">0.009</div>
<div class="t" style="left:278.56px;top:291.05px">0.051<i>*</i></div>
<div class="t" style="left:290.92px;top:291.05px">−0.126<i>***</i></div>
<div class="t" style="left:303.28px;top:291.05px">−0.167<i>***</i></div>
<div class="t" style="left:315.64px;top:291.05px">−0.085<i>***</i></div>
<div class="t" style="left:328.00px;top:291.05px">−0.116<i>***</i></div>
<div class="t" style="left:340.36px;top:291.05px">0.070<i>***</i></div>
<div class="t" style="left:352.72px;top:291.05px">1.000<i>***</i></div>
<div class="t" style="left:266.20px;top:300.90px">−0.113<i>***</i></div>
<div class="t" style="left:278.56px;top:300.90px">−0.027</div>
<div class="t" style="left:290.92px;top:300.90px">0.118<i>***</i></div>
<div class="t" style="left:303.28px;top:300.90px">0.003</div>
<div class="t" style="left:315.64px;top:300.90px">−0.089<i>***</i></div>
<div class="t" style="left:328.00px;top:300.90px">−0.021</div>
<div class="t" style="left:340.36px;top:300.90px">−0.108<i>***</i></div>
<div class="t" style="left:352.72px;top:300.90px">−0.118<i>***</i></div>
<div class="t" style="left:365.08px;top:300.90px">1.000<i>***</i></div>
<div class="t" style="left:266.20px;top:310.75px">0.202<i>***</i></div>
<div class="t" style="left:278.56px;top:310.75px">−0.043</div>
<div class="t" style="left:290.92px;top:310.75px">−0.109<i>***</i></div>
<div class="t" style="left:303.28px;top:310.75px">0.013</div>
<div class="t" style="left:315.64px;top:310.75px">0.081<i>***</i></div>
<div class="t" style="left:328.00px;top:310.75px">0.168<i>***</i></div>
<div class="t" style="left:340.36px;top:310.75px">0.208<i>***</i></div>
<div class="t" style="left:352.72px;top:310.75px">−0.060<i>**</i></div>
<div class="t" style="left:365.08px;top:310.75px">−0.228<i>***</i></div>
<div class="t" style="left:377.44px;top:310.75px">1.000<i>***</i></div>
<div class="t" style="left:266.20px;top:320.60px">0.350<i>***</i></div>
<div class="t" style="left:278.56px;top:320.60px">−0.048<i>*</i></div>
<div class="t" style="left:290.92px;top:320.60px">−0.086<i>***</i></div>
<div class="t" style="left:303.28px;top:320.60px">−0.030</div>
<div class="t" style="left:315.64px;top:320.60px">0.200<i>***</i></div>
<div class="t" style="left:328.00px;top:320.60px">0.200<i>***</i></div>
<div class="t" style="left:340.36px;top:320.60px">0.201<i>***</i></div>
<div class="t" style="left:352.72px;top:320.60px">0.001</div>
<div class="t" style="left:365.08px;top:320.60px">−0.223<i>***</i></div>
<div class="t" style="left:377.44px;top:320.60px">0.469<i>***</i></div>
<div class="t" style="left:389.80px;top:320.60px">1.000<i>***</i></div>
<div class="t" style="left:266.20px;top:330.45px">0.358<i>***</i></div>
<div class="t" style="left:278.56px;top:330.45px">−0.119<i>***</i></div>
<div class="t" style="left:290.92px;top:330.45px">−0.030<i>*</i></div>
<div class="t" style="left:303.28px;top:330.45px">0.012</div>
<div class="t" style="left:315.64px;top:330.45px">0.160<i>***</i></div>
<div class="t" style="left:328.00px;top:330.45px">0.260<i>***</i></div>
<div class="t" style="left:340.36px;top:330.45px">0.258<i>***</i></div>
<div class="t" style="left:352.72px;top:330.45px">−0.084<i>***</i></div>
<div class="t" style="left:365.08px;top:330.45px">−0.150<i>***</i></div>
<div class="t" style="left:377.44px;top:330.45px">0.451<i>***</i></div>
<div class="t" style="left:389.80px;top:330.45px">0.542<i>***</i></div>
<div class="t" style="left:402.16px;top:330.45px">1.000<i>***</i></div>
<div class="t" style="left:266.20px;top:340.30px">0.343<i>***</i></div>
<div class="t" style="left:278.56px;top:340.30px">−0.075<i>***</i></div>
<div class="t" style="left:290.92px;top:340.30px">−0.109<i>***</i></div>
<div class="t" style="left:303.28px;top:340.30px">0.069</div>
<div class="t" style="left:315.64px;top:340.30px">0.216<i>***</i></div>
<div class="t" style="left:328.00px;top:340.30px">0.207<i>***</i></div>
<div class="t" style="left:340.36px;top:340.30px">0.075<i>***</i></div>
<div class="t" style="left:352.72px;top:340.30px">0.005</div>
<div class="t" style="left:365.08px;top:340.30px">−0.278<i>***</i></div>
<div class="t" style="left:377.44px;top:340.30px">0.578<i>***</i></div>
<div class="t" style="left:389.80px;top:340.30px">0.513<i>***</i></div>
<div class="t" style="left:402.16px;top:340.30px">0.506<i>***</i></div>
<div class="t" style="left:414.52px;top:340.30px">1.000<i>***</i></div>
<div class="t" style="left:266.20px;top:350.15px">0.191<i>***</i></div>
<div class="t" style="left:278.56px;top:350.15px">−0.045</div>
<div class="t" style="left:290.92px;top:350.15px">−0.124<i>***</i></div>
<div class="t" style="left:303.28px;top:350.15px">0.012</div>
<div class="t" style="left:315.64px;top:350.15px">0.332<i>***</i></div>
<div class="t" style="left:328.00px;top:350.15px">0.349<i>***</i></div>
<div class="t" style="left:340.36px;top:350.15px">0.165<i>***</i></div>
<div class="t" style="left:352.72px;top:350.15px">−0.167<i>**</i></div>
<div class="t" style="left:365.08px;top:350.15px">−0.217<i>***</i></div>
<div class="t" style="left:377.44px;top:350.15px">0.588<i>***</i></div>
<div class="t" style="left:389.80px;top:350.15px">0.524<i>***</i></div>
<div class="t" style="left:402.16px;top:350.15px">0.587<i>***</i></div>
<div class="t" style="left:414.52px;top:350.15px">0.846<i>***</i></div>
<div class="t" style="left:426.88px;top:350.15px">1.000<i>***</i></div>
</div>
<div class="st" style="left:263.40px;top:225.32px"></div>
<div class="st" style="left:439.24px;top:225.32px"></div>
<div class="st" style="left:263.40px;top:235.17px"></div>
<div class="st" style="left:439.24px;top:235.17px"></div>
<div class="st" style="left:263.40px;top:245.02px"></div>
<div class="st" style="left:439.24px;top:245.02px"></div>
<div class="st" style="left:263.40px;top:254.88px"></div>
<div class="st" style="left:439.24px;top:254.88px"></div>
<div class="st" style="left:263.40px;top:264.72px"></div>
<div class="st" style="left:439.24px;top:264.72px"></div>
<div class="st" style="left:263.40px;top:274.57px"></div>
<div class="st" style="left:439.24px;top:274.57px"></div>
<div class="st" style="left:263.40px;top:284.42px"></div>
<div class="st" style="left:439.24px;top:284.42px"></div>
<div class="st" style="left:263.40px;top:294.27px"></div>
<div class="st" style="left:439.24px;top:294.27px"></div>
<div class="st" style="left:263.40px;top:304.12px"></div>
<div class="st" style="left:439.24px;top:304.12px"></div>
<div class="st" style="left:263.40px;top:313.97px"></div>
<div class="st" style="left:439.24px;top:313.97px"></div>
<div class="st" style="left:263.40px;top:323.82px"></div>
<div class="st" style="left:439.24px;top:323.82px"></div>
<div class="st" style="left:263.40px;top:333.67px"></div>
<div class="st" style="left:439.24px;top:333.67px"></div>
<div class="st" style="left:263.40px;top:343.52px"></div>
<div class="st" style="left:439.24px;top:343.52px"></div>
<div class="st" style="left:263.40px;top:353.38px"></div>
<div class="st" style="left:439.24px;top:353.38px"></div>
<div class="ax" style="left:262.05px;top:216.80px;width:0.9px;height:145.80px"></div>
<div class="ax" style="left:262.05px;top:361.75px;width:181.00px;height:0.9px"></div>
<div class="tk" style="left:260.40px;top:225.28px;width:2.1px;height:0.7px"></div>
<div class="yl" style="left:229.20px;top:223.43px">TP</div>
<div class="tk" style="left:260.40px;top:235.12px;width:2.1px;height:0.7px"></div>
<div class="yl" style="left:229.20px;top:233.28px">Gen.</div>
<div class="tk" style="left:260.40px;top:244.97px;width:2.1px;height:0.7px"></div>
<div class="yl" style="left:229.20px;top:243.12px">Age</div>
<div class="tk" style="left:260.40px;top:254.83px;width:2.1px;height:0.7px"></div>
<div class="yl" style="left:229.20px;top:252.98px">Mar.</div>
<div class="tk" style="left:260.40px;top:264.67px;width:2.1px;height:0.7px"></div>
<div class="yl" style="left:229.20px;top:262.82px">Edu.</div>
<div class="tk" style="left:260.40px;top:274.52px;width:2.1px;height:0.7px"></div>
<div class="yl" style="left:229.20px;top:272.68px">Emp.</div>
<div class="tk" style="left:260.40px;top:284.37px;width:2.1px;height:0.7px"></div>
<div class="yl" style="left:229.20px;top:282.52px">SocE</div>
<div class="tk" style="left:260.40px;top:294.22px;width:2.1px;height:0.7px"></div>
<div class="yl" style="left:229.20px;top:292.38px">HHsize</div>
<div class="tk" style="left:260.40px;top:304.07px;width:2.1px;height:0.7px"></div>
<div class="yl" style="left:229.20px;top:302.23px">DE</div>
<div class="tk" style="left:260.40px;top:313.92px;width:2.1px;height:0.7px"></div>
<div class="yl" style="left:229.20px;top:312.07px">PHS</div>
<div class="tk" style="left:260.40px;top:323.77px;width:2.1px;height:0.7px"></div>
<div class="yl" style="left:229.20px;top:321.93px">MP</div>
<div class="tk" style="left:260.40px;top:333.62px;width:2.1px;height:0.7px"></div>
<div class="yl" style="left:229.20px;top:331.77px">NMP</div>
<div class="tk" style="left:260.40px;top:343.47px;width:2.1px;height:0.7px"></div>
<div class="yl" style="left:229.20px;top:341.62px">Ethn.</div>
<div class="tk" style="left:260.40px;top:353.32px;width:2.1px;height:0.7px"></div>
<div class="yl" style="left:229.20px;top:351.48px">Prov.</div>
<div class="tk" style="left:272.03px;top:362.40px;width:0.7px;height:2.3px"></div>
<div class="xl" style="left:262.38px;top:364.60px">TP</div>
<div class="tk" style="left:284.39px;top:362.40px;width:0.7px;height:2.3px"></div>
<div class="xl" style="left:274.74px;top:364.60px">Gen.</div>
<div class="tk" style="left:296.75px;top:362.40px;width:0.7px;height:2.3px"></div>
<div class="xl" style="left:287.10px;top:364.60px">Age</div>
<div class="tk" style="left:309.11px;top:362.40px;width:0.7px;height:2.3px"></div>
<div class="xl" style="left:299.46px;top:364.60px">Mar.</div>
<div class="tk" style="left:321.47px;top:362.40px;width:0.7px;height:2.3px"></div>
<div class="xl" style="left:311.82px;top:364.60px">Edu.</div>
<div class="tk" style="left:333.83px;top:362.40px;width:0.7px;height:2.3px"></div>
<div class="xl" style="left:324.18px;top:364.60px">Emp.</div>
<div class="tk" style="left:346.19px;top:362.40px;width:0.7px;height:2.3px"></div>
<div class="xl" style="left:336.54px;top:364.60px">SocE</div>
<div class="tk" style="left:358.55px;top:362.40px;width:0.7px;height:2.3px"></div>
<div class="xl" style="left:348.90px;top:364.60px">HHsize</div>
<div class="tk" style="left:370.91px;top:362.40px;width:0.7px;height:2.3px"></div>
<div class="xl" style="left:361.26px;top:364.60px">DE</div>
<div class="tk" style="left:383.27px;top:362.40px;width:0.7px;height:2.3px"></div>
<div class="xl" style="left:373.62px;top:364.60px">PHS</div>
<div class="tk" style="left:395.63px;top:362.40px;width:0.7px;height:2.3px"></div>
<div class="xl" style="left:385.98px;top:364.60px">MP</div>
<div class="tk" style="left:407.99px;top:362.40px;width:0.7px;height:2.3px"></div>
<div class="xl" style="left:398.34px;top:364.60px">NMP</div>
<div class="tk" style="left:420.35px;top:362.40px;width:0.7px;height:2.3px"></div>
<div class="xl" style="left:410.70px;top:364.60px">Ethn.</div>
<div class="tk" style="left:432.71px;top:362.40px;width:0.7px;height:2.3px"></div>
<div class="xl" style="left:423.06px;top:364.60px">Prov.</div>
<div class="bx" style="left:228.00px;top:211.00px;width:230.00px;height:166.80px"></div>
<div class="cap" style="left:290.26px;top:378.39px;font-size:8.80px;line-height:10.12px;transform:scaleX(1.0207)">(e)Transformative potential</div>
<div class="lg" style="left:492.87px;top:221.38px;font-size:8.60px;line-height:9.89px;transform:scaleX(0.9947)">Gen.-Gender</div>
<div class="lg" style="left:492.58px;top:233.08px;font-size:8.60px;line-height:9.89px;transform:scaleX(1.0424)">Mar.-Marital status</div>
<div class="lg" style="left:492.61px;top:244.78px;font-size:8.60px;line-height:9.89px;transform:scaleX(1.0039)">Edu.-Education</div>
<div class="lg" style="left:492.59px;top:256.48px;font-size:8.60px;line-height:9.89px;transform:scaleX(1.0266)">Emp.-Employment status</div>
<div class="lg" style="left:492.92px;top:268.18px;font-size:8.60px;line-height:9.89px;transform:scaleX(0.9936)">SocE-Socioeconomic status</div>
<div class="lg" style="left:492.61px;top:279.88px;font-size:8.60px;line-height:9.89px;transform:scaleX(0.9975)">HHsize-Household size</div>
<div class="lg" style="left:492.61px;top:291.58px;font-size:8.60px;line-height:9.89px;transform:scaleX(1.0002)">DE-Disaster experience</div>
<div class="lg" style="left:492.61px;top:303.28px;font-size:8.60px;line-height:9.89px;transform:scaleX(1.0068)">PHS-Perceptions of housing safety</div>
<div class="lg" style="left:492.58px;top:314.98px;font-size:8.60px;line-height:9.89px;transform:scaleX(1.0452)">MP-Material preparedness</div>
<div class="lg" style="left:492.59px;top:326.68px;font-size:8.60px;line-height:9.89px;transform:scaleX(1.0350)">NMP-Non-material preparedness</div>
<div class="lg" style="left:492.58px;top:338.38px;font-size:8.60px;line-height:9.89px;transform:scaleX(1.0395)">Ethn.-Ethnicity</div>
<div class="lg" style="left:492.62px;top:350.08px;font-size:8.60px;line-height:9.89px;transform:scaleX(0.9956)">Prov.-Province</div>
</body></html>
